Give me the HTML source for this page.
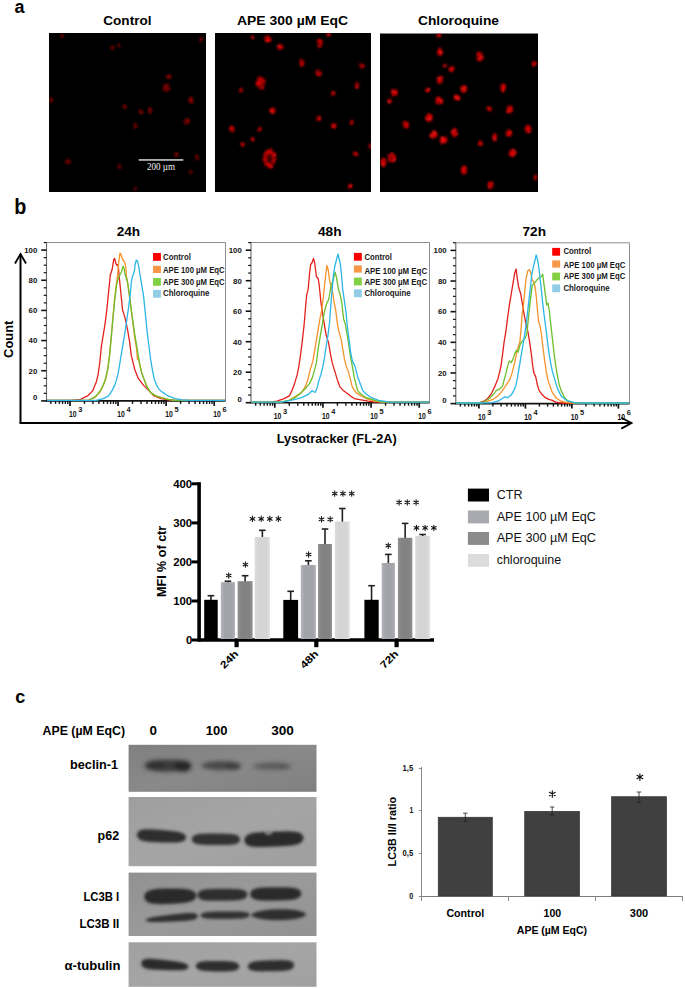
<!DOCTYPE html>
<html><head><meta charset="utf-8"><title>Figure</title>
<style>
html,body{margin:0;padding:0;background:#fff;}
body{width:685px;height:988px;overflow:hidden;}
svg{display:block;font-family:"Liberation Sans", sans-serif;}
</style></head><body>
<svg width="685" height="988" viewBox="0 0 685 988">
<defs>
<filter id="blur1" x="-50%" y="-50%" width="200%" height="200%"><feGaussianBlur stdDeviation="0.9"/></filter>
<filter id="blur2" x="-20%" y="-50%" width="140%" height="200%"><feGaussianBlur stdDeviation="1.35"/></filter>
<filter id="blur3" x="-20%" y="-80%" width="140%" height="260%"><feGaussianBlur stdDeviation="1.9"/></filter>
</defs>
<text x="14.6" y="13" font-size="18" font-weight="bold" text-anchor="start" fill="#000" >a</text>
<text x="103.3" y="25.4" font-size="13.7" font-weight="bold" text-anchor="start" fill="#000" textLength="48.2" lengthAdjust="spacingAndGlyphs" >Control</text>
<text x="237" y="25.4" font-size="13.7" font-weight="bold" text-anchor="start" fill="#000" textLength="111" lengthAdjust="spacingAndGlyphs" >APE 300 µM EqC</text>
<text x="418" y="25.4" font-size="13.7" font-weight="bold" text-anchor="start" fill="#000" textLength="81" lengthAdjust="spacingAndGlyphs" >Chloroquine</text>
<rect x="49" y="33" width="157" height="159" fill="#000"/>
<rect x="215" y="33" width="156" height="159" fill="#000"/>
<rect x="380" y="33.5" width="158" height="158.5" fill="#000"/>
<clipPath id="cp1"><rect x="49" y="33" width="157" height="159"/></clipPath>
<clipPath id="cp2"><rect x="215" y="33" width="156" height="159"/></clipPath>
<clipPath id="cp3"><rect x="380" y="33.5" width="158" height="158.5"/></clipPath>
<g clip-path="url(#cp1)"><g filter="url(#blur1)" opacity="0.8">
<ellipse cx="62" cy="36" rx="1.42" ry="1.42" fill="#500000" opacity="0.5"/>
<circle cx="61.78" cy="36.44" r="1.11" fill="#a00000"/>
<circle cx="62.17" cy="35.65" r="1.06" fill="#c00000"/>
<circle cx="62.82" cy="36.20" r="0.70" fill="#a00000"/>
<circle cx="61.71" cy="35.90" r="1.05" fill="#c00000"/>
<circle cx="61.34" cy="35.29" r="0.69" fill="#700000"/>
<circle cx="62.57" cy="36.18" r="1.04" fill="#c00000"/>
<ellipse cx="113" cy="48" rx="1.52" ry="2.85" fill="#500000" opacity="0.5"/>
<circle cx="112.87" cy="48.94" r="0.73" fill="#8a0000"/>
<circle cx="111.96" cy="47.22" r="0.72" fill="#c00000"/>
<circle cx="112.30" cy="49.36" r="0.69" fill="#a00000"/>
<circle cx="112.30" cy="46.78" r="1.02" fill="#8a0000"/>
<circle cx="111.72" cy="48.53" r="0.90" fill="#c00000"/>
<circle cx="113.31" cy="45.95" r="0.82" fill="#8a0000"/>
<circle cx="111.74" cy="47.62" r="1.16" fill="#8a0000"/>
<circle cx="112.71" cy="47.56" r="1.01" fill="#c00000"/>
<circle cx="113.02" cy="47.01" r="0.99" fill="#a00000"/>
<circle cx="113.37" cy="47.83" r="1.04" fill="#8a0000"/>
<ellipse cx="118.5" cy="45" rx="1.42" ry="1.42" fill="#500000" opacity="0.5"/>
<circle cx="118.10" cy="45.64" r="1.00" fill="#700000"/>
<circle cx="118.85" cy="45.16" r="0.84" fill="#a00000"/>
<circle cx="119.49" cy="45.40" r="1.10" fill="#700000"/>
<circle cx="118.33" cy="45.77" r="1.12" fill="#a00000"/>
<circle cx="119.21" cy="44.72" r="1.08" fill="#700000"/>
<circle cx="119.54" cy="45.40" r="0.74" fill="#c00000"/>
<ellipse cx="201.6" cy="39.6" rx="1.71" ry="2.38" fill="#500000" opacity="0.5"/>
<circle cx="200.43" cy="40.82" r="1.00" fill="#c00000"/>
<circle cx="200.52" cy="40.09" r="1.27" fill="#700000"/>
<circle cx="202.13" cy="38.75" r="0.94" fill="#8a0000"/>
<circle cx="201.21" cy="38.40" r="0.81" fill="#a00000"/>
<circle cx="201.93" cy="40.52" r="0.81" fill="#700000"/>
<circle cx="201.92" cy="38.81" r="0.85" fill="#c00000"/>
<circle cx="200.79" cy="40.23" r="1.05" fill="#c00000"/>
<circle cx="201.20" cy="38.18" r="1.08" fill="#a00000"/>
<circle cx="200.22" cy="40.13" r="1.32" fill="#700000"/>
<ellipse cx="169" cy="77" rx="2.38" ry="2.38" fill="#500000" opacity="0.5"/>
<circle cx="167.93" cy="77.80" r="0.99" fill="#700000"/>
<circle cx="169.51" cy="77.21" r="0.80" fill="#c00000"/>
<circle cx="170.27" cy="78.05" r="0.72" fill="#c00000"/>
<circle cx="166.98" cy="76.53" r="1.08" fill="#a00000"/>
<circle cx="170.17" cy="75.82" r="0.75" fill="#8a0000"/>
<circle cx="170.58" cy="76.54" r="0.98" fill="#a00000"/>
<circle cx="170.23" cy="75.28" r="0.98" fill="#700000"/>
<circle cx="168.69" cy="77.75" r="1.17" fill="#8a0000"/>
<circle cx="167.25" cy="77.24" r="1.01" fill="#c00000"/>
<circle cx="170.47" cy="76.53" r="0.75" fill="#a00000"/>
<circle cx="169.06" cy="75.84" r="1.10" fill="#a00000"/>
<circle cx="168.64" cy="75.98" r="0.91" fill="#c00000"/>
<ellipse cx="166.7" cy="87.8" rx="3.32" ry="3.80" fill="#500000" opacity="0.5"/>
<circle cx="165.83" cy="89.06" r="1.03" fill="#8a0000"/>
<circle cx="165.18" cy="85.79" r="1.20" fill="#c00000"/>
<circle cx="167.63" cy="84.91" r="1.17" fill="#c00000"/>
<circle cx="167.35" cy="90.07" r="1.16" fill="#a00000"/>
<circle cx="167.21" cy="85.54" r="0.79" fill="#8a0000"/>
<circle cx="163.98" cy="88.87" r="1.34" fill="#8a0000"/>
<circle cx="167.53" cy="88.33" r="0.98" fill="#8a0000"/>
<circle cx="167.36" cy="90.38" r="1.28" fill="#a00000"/>
<circle cx="164.32" cy="88.15" r="1.21" fill="#a00000"/>
<circle cx="167.22" cy="86.79" r="0.92" fill="#c00000"/>
<circle cx="165.45" cy="88.00" r="1.20" fill="#8a0000"/>
<circle cx="169.17" cy="89.51" r="1.16" fill="#700000"/>
<circle cx="164.34" cy="89.72" r="1.16" fill="#c00000"/>
<circle cx="167.19" cy="87.78" r="1.06" fill="#700000"/>
<circle cx="167.10" cy="86.58" r="1.23" fill="#700000"/>
<circle cx="165.73" cy="86.12" r="1.03" fill="#c00000"/>
<circle cx="169.34" cy="88.21" r="1.16" fill="#a00000"/>
<circle cx="163.87" cy="87.25" r="0.95" fill="#c00000"/>
<circle cx="167.33" cy="86.41" r="0.83" fill="#8a0000"/>
<circle cx="164.10" cy="87.78" r="0.88" fill="#700000"/>
<circle cx="167.07" cy="87.08" r="1.17" fill="#700000"/>
<circle cx="165.30" cy="85.18" r="1.01" fill="#c00000"/>
<circle cx="164.59" cy="87.31" r="0.66" fill="#700000"/>
<ellipse cx="190.8" cy="100" rx="2.38" ry="3.32" fill="#500000" opacity="0.5"/>
<circle cx="191.07" cy="97.71" r="1.19" fill="#c00000"/>
<circle cx="191.49" cy="101.81" r="1.16" fill="#a00000"/>
<circle cx="190.10" cy="101.90" r="1.04" fill="#a00000"/>
<circle cx="191.18" cy="99.53" r="0.78" fill="#a00000"/>
<circle cx="191.01" cy="97.90" r="1.04" fill="#a00000"/>
<circle cx="189.24" cy="100.81" r="1.00" fill="#c00000"/>
<circle cx="190.30" cy="98.13" r="1.02" fill="#700000"/>
<circle cx="189.74" cy="99.93" r="1.02" fill="#8a0000"/>
<circle cx="192.58" cy="98.69" r="0.79" fill="#700000"/>
<circle cx="191.28" cy="100.79" r="0.96" fill="#a00000"/>
<circle cx="190.14" cy="98.29" r="0.80" fill="#8a0000"/>
<circle cx="191.23" cy="97.25" r="0.76" fill="#8a0000"/>
<circle cx="192.04" cy="102.19" r="1.33" fill="#c00000"/>
<circle cx="190.79" cy="99.09" r="1.27" fill="#c00000"/>
<circle cx="192.73" cy="99.83" r="0.76" fill="#700000"/>
<ellipse cx="51" cy="100" rx="1.71" ry="2.85" fill="#500000" opacity="0.5"/>
<circle cx="51.97" cy="99.94" r="0.94" fill="#8a0000"/>
<circle cx="50.46" cy="101.97" r="0.66" fill="#700000"/>
<circle cx="50.81" cy="100.13" r="0.88" fill="#8a0000"/>
<circle cx="50.61" cy="99.95" r="1.34" fill="#c00000"/>
<circle cx="51.49" cy="99.85" r="0.84" fill="#a00000"/>
<circle cx="51.54" cy="99.39" r="1.18" fill="#700000"/>
<circle cx="51.74" cy="98.30" r="1.31" fill="#700000"/>
<circle cx="51.87" cy="101.97" r="1.05" fill="#8a0000"/>
<circle cx="51.31" cy="100.33" r="1.13" fill="#700000"/>
<circle cx="51.63" cy="99.19" r="0.66" fill="#a00000"/>
<ellipse cx="124.5" cy="107" rx="1.90" ry="2.38" fill="#500000" opacity="0.5"/>
<circle cx="124.66" cy="106.42" r="1.25" fill="#a00000"/>
<circle cx="124.45" cy="107.74" r="0.66" fill="#700000"/>
<circle cx="125.29" cy="106.51" r="0.74" fill="#c00000"/>
<circle cx="126.05" cy="106.21" r="0.83" fill="#c00000"/>
<circle cx="124.78" cy="108.13" r="0.86" fill="#c00000"/>
<circle cx="124.20" cy="108.46" r="0.77" fill="#8a0000"/>
<circle cx="125.06" cy="105.00" r="0.68" fill="#a00000"/>
<circle cx="124.37" cy="105.43" r="0.78" fill="#700000"/>
<circle cx="124.53" cy="108.42" r="1.11" fill="#700000"/>
<circle cx="123.80" cy="105.69" r="1.27" fill="#8a0000"/>
<ellipse cx="141" cy="112" rx="2.09" ry="2.38" fill="#500000" opacity="0.5"/>
<circle cx="140.29" cy="110.05" r="0.89" fill="#c00000"/>
<circle cx="140.09" cy="112.71" r="0.69" fill="#c00000"/>
<circle cx="142.47" cy="112.15" r="1.27" fill="#700000"/>
<circle cx="141.28" cy="112.53" r="1.24" fill="#8a0000"/>
<circle cx="139.73" cy="110.97" r="0.68" fill="#c00000"/>
<circle cx="141.69" cy="113.19" r="0.83" fill="#8a0000"/>
<circle cx="142.36" cy="111.73" r="0.82" fill="#8a0000"/>
<circle cx="141.16" cy="112.89" r="0.88" fill="#a00000"/>
<circle cx="139.69" cy="112.24" r="0.79" fill="#a00000"/>
<circle cx="142.42" cy="113.04" r="0.75" fill="#a00000"/>
<circle cx="140.20" cy="112.72" r="1.09" fill="#a00000"/>
<ellipse cx="150" cy="111" rx="1.90" ry="3.32" fill="#500000" opacity="0.5"/>
<circle cx="148.94" cy="109.89" r="1.18" fill="#700000"/>
<circle cx="150.13" cy="108.48" r="1.00" fill="#8a0000"/>
<circle cx="149.78" cy="108.65" r="0.68" fill="#700000"/>
<circle cx="149.84" cy="108.33" r="0.75" fill="#a00000"/>
<circle cx="150.60" cy="108.98" r="1.27" fill="#c00000"/>
<circle cx="150.30" cy="111.31" r="1.10" fill="#a00000"/>
<circle cx="149.18" cy="112.40" r="0.69" fill="#a00000"/>
<circle cx="149.02" cy="109.25" r="0.99" fill="#a00000"/>
<circle cx="149.57" cy="111.21" r="1.30" fill="#a00000"/>
<circle cx="149.76" cy="110.36" r="1.17" fill="#8a0000"/>
<circle cx="150.57" cy="108.45" r="0.81" fill="#c00000"/>
<circle cx="150.17" cy="113.38" r="0.97" fill="#700000"/>
<circle cx="151.44" cy="112.32" r="0.85" fill="#a00000"/>
<ellipse cx="187" cy="121.5" rx="3.04" ry="3.32" fill="#500000" opacity="0.5"/>
<circle cx="185.38" cy="119.90" r="0.70" fill="#c00000"/>
<circle cx="185.92" cy="123.59" r="1.14" fill="#c00000"/>
<circle cx="187.67" cy="121.56" r="0.84" fill="#a00000"/>
<circle cx="186.21" cy="119.21" r="0.85" fill="#8a0000"/>
<circle cx="185.19" cy="121.95" r="0.73" fill="#c00000"/>
<circle cx="186.70" cy="122.31" r="0.98" fill="#8a0000"/>
<circle cx="184.62" cy="122.19" r="1.33" fill="#700000"/>
<circle cx="188.69" cy="121.43" r="1.29" fill="#c00000"/>
<circle cx="187.73" cy="121.90" r="1.17" fill="#8a0000"/>
<circle cx="187.95" cy="121.18" r="1.22" fill="#8a0000"/>
<circle cx="188.73" cy="119.87" r="0.81" fill="#700000"/>
<circle cx="186.15" cy="122.23" r="1.31" fill="#700000"/>
<circle cx="185.08" cy="122.92" r="0.94" fill="#700000"/>
<circle cx="185.99" cy="124.00" r="0.65" fill="#8a0000"/>
<circle cx="187.50" cy="120.63" r="1.30" fill="#a00000"/>
<circle cx="188.19" cy="120.57" r="0.91" fill="#700000"/>
<circle cx="185.04" cy="123.27" r="0.70" fill="#700000"/>
<circle cx="187.09" cy="118.75" r="0.85" fill="#a00000"/>
<circle cx="187.74" cy="120.13" r="1.30" fill="#c00000"/>
<ellipse cx="135" cy="126" rx="1.71" ry="2.38" fill="#500000" opacity="0.5"/>
<circle cx="135.99" cy="125.75" r="0.87" fill="#8a0000"/>
<circle cx="135.22" cy="124.64" r="0.67" fill="#700000"/>
<circle cx="136.27" cy="124.93" r="1.03" fill="#a00000"/>
<circle cx="136.25" cy="126.56" r="0.97" fill="#c00000"/>
<circle cx="134.50" cy="125.10" r="0.68" fill="#c00000"/>
<circle cx="135.47" cy="127.20" r="0.85" fill="#8a0000"/>
<circle cx="134.90" cy="123.91" r="0.83" fill="#c00000"/>
<circle cx="134.64" cy="127.51" r="0.93" fill="#c00000"/>
<circle cx="134.74" cy="125.54" r="1.00" fill="#700000"/>
<ellipse cx="68" cy="161" rx="2.85" ry="2.85" fill="#500000" opacity="0.5"/>
<circle cx="66.37" cy="160.47" r="0.88" fill="#700000"/>
<circle cx="66.31" cy="161.83" r="0.82" fill="#c00000"/>
<circle cx="67.58" cy="161.64" r="0.82" fill="#8a0000"/>
<circle cx="68.42" cy="159.93" r="0.66" fill="#700000"/>
<circle cx="66.37" cy="162.48" r="0.80" fill="#8a0000"/>
<circle cx="67.67" cy="161.54" r="0.84" fill="#8a0000"/>
<circle cx="69.27" cy="162.29" r="1.09" fill="#c00000"/>
<circle cx="70.02" cy="162.33" r="0.92" fill="#700000"/>
<circle cx="66.70" cy="161.59" r="1.22" fill="#a00000"/>
<circle cx="69.16" cy="162.19" r="1.18" fill="#700000"/>
<circle cx="69.75" cy="160.65" r="0.70" fill="#700000"/>
<circle cx="69.25" cy="160.78" r="0.73" fill="#c00000"/>
<circle cx="69.45" cy="163.05" r="0.73" fill="#700000"/>
<circle cx="69.93" cy="162.14" r="0.65" fill="#c00000"/>
<circle cx="68.27" cy="163.43" r="1.10" fill="#8a0000"/>
<circle cx="69.96" cy="160.53" r="1.02" fill="#700000"/>
<ellipse cx="119.7" cy="167" rx="1.71" ry="2.38" fill="#500000" opacity="0.5"/>
<circle cx="119.54" cy="166.33" r="0.70" fill="#c00000"/>
<circle cx="119.15" cy="167.65" r="1.07" fill="#a00000"/>
<circle cx="118.21" cy="166.51" r="0.85" fill="#8a0000"/>
<circle cx="118.82" cy="165.42" r="0.98" fill="#c00000"/>
<circle cx="119.45" cy="166.89" r="0.94" fill="#8a0000"/>
<circle cx="120.33" cy="167.32" r="1.27" fill="#700000"/>
<circle cx="120.34" cy="167.49" r="0.95" fill="#8a0000"/>
<circle cx="119.74" cy="167.39" r="0.89" fill="#700000"/>
<circle cx="119.08" cy="168.02" r="0.65" fill="#8a0000"/>
<ellipse cx="197" cy="157.7" rx="1.90" ry="2.38" fill="#500000" opacity="0.5"/>
<circle cx="196.92" cy="156.19" r="0.79" fill="#c00000"/>
<circle cx="196.42" cy="159.48" r="0.81" fill="#c00000"/>
<circle cx="196.85" cy="159.70" r="0.73" fill="#700000"/>
<circle cx="195.76" cy="156.42" r="0.99" fill="#a00000"/>
<circle cx="197.62" cy="157.44" r="0.93" fill="#c00000"/>
<circle cx="198.30" cy="157.94" r="0.94" fill="#a00000"/>
<circle cx="197.46" cy="159.00" r="1.15" fill="#8a0000"/>
<circle cx="196.82" cy="155.59" r="1.30" fill="#8a0000"/>
<circle cx="197.50" cy="159.30" r="1.02" fill="#700000"/>
<circle cx="198.36" cy="158.04" r="0.92" fill="#8a0000"/>
<ellipse cx="190.8" cy="172" rx="1.71" ry="1.90" fill="#500000" opacity="0.5"/>
<circle cx="191.81" cy="171.89" r="0.73" fill="#a00000"/>
<circle cx="190.63" cy="172.99" r="1.32" fill="#a00000"/>
<circle cx="189.56" cy="171.45" r="0.92" fill="#8a0000"/>
<circle cx="191.24" cy="170.99" r="0.68" fill="#700000"/>
<circle cx="191.18" cy="173.18" r="0.96" fill="#8a0000"/>
<circle cx="189.85" cy="173.21" r="0.67" fill="#700000"/>
<circle cx="190.82" cy="173.34" r="0.93" fill="#700000"/>
<circle cx="191.17" cy="172.09" r="1.29" fill="#8a0000"/>
<ellipse cx="176" cy="155" rx="1.90" ry="1.71" fill="#500000" opacity="0.5"/>
<circle cx="176.14" cy="155.36" r="1.07" fill="#8a0000"/>
<circle cx="175.77" cy="156.48" r="1.08" fill="#8a0000"/>
<circle cx="175.97" cy="153.73" r="1.30" fill="#8a0000"/>
<circle cx="177.48" cy="155.03" r="1.29" fill="#a00000"/>
<circle cx="176.81" cy="155.11" r="0.98" fill="#700000"/>
<circle cx="177.01" cy="154.73" r="0.83" fill="#700000"/>
<circle cx="176.25" cy="154.49" r="1.00" fill="#a00000"/>
<circle cx="176.47" cy="153.76" r="1.23" fill="#c00000"/>
<ellipse cx="135" cy="189" rx="1.42" ry="1.42" fill="#500000" opacity="0.5"/>
<circle cx="134.43" cy="188.54" r="0.87" fill="#8a0000"/>
<circle cx="135.21" cy="188.04" r="1.01" fill="#700000"/>
<circle cx="135.01" cy="188.37" r="0.70" fill="#a00000"/>
<circle cx="134.07" cy="189.11" r="0.76" fill="#700000"/>
<circle cx="135.94" cy="188.15" r="0.84" fill="#a00000"/>
<circle cx="135.21" cy="189.80" r="1.34" fill="#700000"/>
</g></g><g clip-path="url(#cp2)"><g filter="url(#blur1)">
<ellipse cx="267.8" cy="39.2" rx="3.80" ry="3.32" fill="#780000" opacity="0.55"/>
<circle cx="268.38" cy="40.16" r="0.97" fill="#ff1010"/>
<circle cx="267.76" cy="36.46" r="1.12" fill="#e00000"/>
<circle cx="268.14" cy="37.62" r="0.85" fill="#c00000"/>
<circle cx="265.76" cy="41.03" r="0.79" fill="#ff1010"/>
<circle cx="268.45" cy="40.53" r="0.85" fill="#ff1010"/>
<circle cx="266.81" cy="40.86" r="1.34" fill="#ff1010"/>
<circle cx="267.16" cy="38.44" r="0.97" fill="#e00000"/>
<circle cx="269.67" cy="40.43" r="1.22" fill="#a00000"/>
<circle cx="268.39" cy="38.89" r="0.86" fill="#e00000"/>
<circle cx="270.30" cy="39.92" r="1.23" fill="#ff1010"/>
<circle cx="269.68" cy="38.43" r="1.26" fill="#a00000"/>
<circle cx="265.41" cy="37.62" r="1.12" fill="#e00000"/>
<circle cx="269.87" cy="40.62" r="1.08" fill="#ff1010"/>
<circle cx="269.73" cy="39.60" r="0.68" fill="#c00000"/>
<ellipse cx="279.9" cy="46.9" rx="2.85" ry="3.32" fill="#780000" opacity="0.55"/>
<circle cx="282.02" cy="47.51" r="1.29" fill="#e00000"/>
<circle cx="280.58" cy="45.17" r="0.91" fill="#c00000"/>
<circle cx="280.30" cy="47.15" r="1.00" fill="#a00000"/>
<circle cx="280.65" cy="47.27" r="0.93" fill="#ff1010"/>
<circle cx="279.41" cy="46.21" r="0.76" fill="#c00000"/>
<circle cx="278.76" cy="47.75" r="0.87" fill="#e00000"/>
<circle cx="279.17" cy="48.97" r="0.90" fill="#a00000"/>
<circle cx="282.12" cy="47.20" r="1.21" fill="#ff1010"/>
<circle cx="278.64" cy="48.10" r="1.31" fill="#a00000"/>
<circle cx="281.25" cy="45.78" r="1.22" fill="#a00000"/>
<circle cx="278.54" cy="46.06" r="1.19" fill="#ff1010"/>
<ellipse cx="252" cy="37" rx="1.42" ry="1.90" fill="#780000" opacity="0.55"/>
<circle cx="252.94" cy="37.12" r="1.10" fill="#a00000"/>
<circle cx="252.85" cy="37.71" r="0.91" fill="#ff1010"/>
<circle cx="252.41" cy="37.72" r="1.01" fill="#e00000"/>
<circle cx="252.69" cy="37.75" r="1.21" fill="#ff1010"/>
<ellipse cx="319.6" cy="43.3" rx="2.85" ry="4.27" fill="#780000" opacity="0.55"/>
<circle cx="318.86" cy="46.62" r="0.68" fill="#a00000"/>
<circle cx="318.82" cy="46.04" r="1.10" fill="#e00000"/>
<circle cx="321.26" cy="41.59" r="1.23" fill="#ff1010"/>
<circle cx="318.10" cy="40.57" r="1.08" fill="#ff1010"/>
<circle cx="320.12" cy="41.86" r="0.80" fill="#a00000"/>
<circle cx="320.53" cy="42.73" r="0.90" fill="#ff1010"/>
<circle cx="319.64" cy="46.56" r="1.28" fill="#e00000"/>
<circle cx="321.34" cy="40.96" r="1.12" fill="#c00000"/>
<circle cx="321.06" cy="45.30" r="1.04" fill="#c00000"/>
<circle cx="318.76" cy="41.59" r="0.82" fill="#a00000"/>
<circle cx="318.68" cy="41.15" r="0.96" fill="#e00000"/>
<circle cx="322.13" cy="43.38" r="0.98" fill="#a00000"/>
<circle cx="319.79" cy="39.93" r="0.97" fill="#ff1010"/>
<circle cx="320.20" cy="41.05" r="0.70" fill="#c00000"/>
<ellipse cx="328" cy="34.8" rx="1.90" ry="1.90" fill="#780000" opacity="0.55"/>
<circle cx="327.53" cy="35.02" r="0.96" fill="#e00000"/>
<circle cx="328.59" cy="34.96" r="1.30" fill="#c00000"/>
<circle cx="328.21" cy="33.60" r="0.69" fill="#a00000"/>
<circle cx="327.14" cy="33.57" r="0.67" fill="#e00000"/>
<circle cx="329.45" cy="34.76" r="1.22" fill="#ff1010"/>
<ellipse cx="301.6" cy="62.5" rx="2.85" ry="3.80" fill="#780000" opacity="0.55"/>
<circle cx="303.22" cy="64.85" r="0.85" fill="#ff1010"/>
<circle cx="300.75" cy="59.84" r="0.80" fill="#c00000"/>
<circle cx="300.62" cy="61.41" r="0.88" fill="#c00000"/>
<circle cx="303.03" cy="61.21" r="0.83" fill="#a00000"/>
<circle cx="301.94" cy="64.18" r="1.00" fill="#c00000"/>
<circle cx="300.81" cy="63.59" r="0.93" fill="#c00000"/>
<circle cx="300.57" cy="59.59" r="0.77" fill="#c00000"/>
<circle cx="302.99" cy="64.14" r="1.10" fill="#c00000"/>
<circle cx="303.28" cy="62.02" r="1.02" fill="#e00000"/>
<circle cx="301.58" cy="64.99" r="1.25" fill="#c00000"/>
<circle cx="301.37" cy="65.87" r="1.05" fill="#c00000"/>
<circle cx="301.25" cy="63.35" r="0.81" fill="#e00000"/>
<ellipse cx="318.4" cy="72.9" rx="3.32" ry="3.32" fill="#780000" opacity="0.55"/>
<circle cx="317.79" cy="74.95" r="0.87" fill="#c00000"/>
<circle cx="318.13" cy="70.34" r="0.81" fill="#c00000"/>
<circle cx="316.94" cy="71.60" r="1.01" fill="#e00000"/>
<circle cx="319.36" cy="73.95" r="1.11" fill="#e00000"/>
<circle cx="320.51" cy="73.65" r="0.86" fill="#c00000"/>
<circle cx="316.53" cy="72.49" r="0.86" fill="#ff1010"/>
<circle cx="319.07" cy="75.15" r="0.98" fill="#ff1010"/>
<circle cx="321.05" cy="73.14" r="1.15" fill="#a00000"/>
<circle cx="320.36" cy="74.25" r="1.26" fill="#c00000"/>
<circle cx="317.15" cy="73.78" r="0.66" fill="#c00000"/>
<circle cx="316.53" cy="71.63" r="1.07" fill="#a00000"/>
<circle cx="318.43" cy="75.73" r="0.68" fill="#e00000"/>
<circle cx="317.20" cy="73.71" r="0.69" fill="#e00000"/>
<ellipse cx="361.8" cy="66" rx="2.38" ry="2.38" fill="#780000" opacity="0.55"/>
<circle cx="363.37" cy="66.12" r="1.31" fill="#ff1010"/>
<circle cx="360.49" cy="66.79" r="1.10" fill="#a00000"/>
<circle cx="362.14" cy="65.18" r="0.87" fill="#c00000"/>
<circle cx="360.31" cy="64.49" r="1.16" fill="#a00000"/>
<circle cx="361.76" cy="65.83" r="1.24" fill="#a00000"/>
<circle cx="363.31" cy="66.83" r="0.77" fill="#e00000"/>
<circle cx="361.68" cy="67.70" r="0.74" fill="#c00000"/>
<ellipse cx="260.6" cy="83" rx="4.75" ry="6.65" fill="#780000" opacity="0.55"/>
<circle cx="260.08" cy="80.02" r="1.04" fill="#a00000"/>
<circle cx="259.00" cy="77.76" r="1.33" fill="#c00000"/>
<circle cx="257.98" cy="78.45" r="0.80" fill="#e00000"/>
<circle cx="262.55" cy="87.96" r="1.24" fill="#ff1010"/>
<circle cx="264.05" cy="81.25" r="0.88" fill="#a00000"/>
<circle cx="259.62" cy="85.56" r="1.29" fill="#a00000"/>
<circle cx="257.55" cy="83.76" r="0.65" fill="#e00000"/>
<circle cx="257.26" cy="84.95" r="1.05" fill="#c00000"/>
<circle cx="261.25" cy="79.39" r="1.06" fill="#ff1010"/>
<circle cx="261.03" cy="83.77" r="0.72" fill="#ff1010"/>
<circle cx="259.70" cy="84.85" r="0.67" fill="#e00000"/>
<circle cx="262.80" cy="86.65" r="0.68" fill="#e00000"/>
<circle cx="260.51" cy="81.48" r="1.06" fill="#c00000"/>
<circle cx="261.90" cy="88.52" r="1.02" fill="#e00000"/>
<circle cx="263.29" cy="79.45" r="1.15" fill="#a00000"/>
<circle cx="262.11" cy="84.68" r="0.73" fill="#e00000"/>
<circle cx="264.45" cy="81.22" r="1.18" fill="#e00000"/>
<circle cx="262.13" cy="78.79" r="0.85" fill="#e00000"/>
<circle cx="263.14" cy="86.92" r="1.10" fill="#c00000"/>
<circle cx="259.44" cy="86.51" r="0.66" fill="#c00000"/>
<circle cx="261.45" cy="82.44" r="1.18" fill="#c00000"/>
<circle cx="261.00" cy="78.42" r="0.98" fill="#c00000"/>
<circle cx="260.05" cy="82.29" r="0.94" fill="#a00000"/>
<circle cx="259.28" cy="82.78" r="0.98" fill="#e00000"/>
<circle cx="258.68" cy="82.35" r="1.25" fill="#e00000"/>
<circle cx="258.57" cy="81.56" r="0.96" fill="#ff1010"/>
<circle cx="259.72" cy="88.01" r="0.69" fill="#c00000"/>
<circle cx="257.63" cy="83.24" r="1.21" fill="#ff1010"/>
<circle cx="263.80" cy="82.06" r="1.32" fill="#c00000"/>
<circle cx="259.11" cy="81.88" r="1.22" fill="#ff1010"/>
<circle cx="259.19" cy="83.02" r="1.10" fill="#e00000"/>
<circle cx="256.38" cy="83.36" r="1.04" fill="#e00000"/>
<circle cx="258.84" cy="80.45" r="0.93" fill="#a00000"/>
<ellipse cx="240.8" cy="90" rx="1.90" ry="2.38" fill="#780000" opacity="0.55"/>
<circle cx="241.94" cy="88.85" r="0.95" fill="#e00000"/>
<circle cx="240.15" cy="90.84" r="0.95" fill="#ff1010"/>
<circle cx="239.64" cy="91.37" r="0.81" fill="#a00000"/>
<circle cx="241.72" cy="91.17" r="1.13" fill="#e00000"/>
<circle cx="240.24" cy="90.99" r="0.76" fill="#a00000"/>
<circle cx="240.03" cy="88.44" r="0.77" fill="#a00000"/>
<ellipse cx="357" cy="85.4" rx="1.90" ry="2.85" fill="#780000" opacity="0.55"/>
<circle cx="356.68" cy="84.20" r="0.81" fill="#c00000"/>
<circle cx="355.45" cy="85.97" r="0.82" fill="#ff1010"/>
<circle cx="356.84" cy="87.60" r="1.23" fill="#ff1010"/>
<circle cx="356.72" cy="82.92" r="1.16" fill="#c00000"/>
<circle cx="357.52" cy="86.64" r="0.78" fill="#e00000"/>
<circle cx="357.70" cy="87.18" r="0.79" fill="#ff1010"/>
<circle cx="358.51" cy="85.17" r="1.16" fill="#a00000"/>
<ellipse cx="333" cy="93.8" rx="2.38" ry="2.38" fill="#780000" opacity="0.55"/>
<circle cx="332.90" cy="94.49" r="1.29" fill="#c00000"/>
<circle cx="333.36" cy="95.07" r="0.67" fill="#a00000"/>
<circle cx="333.86" cy="92.69" r="0.81" fill="#c00000"/>
<circle cx="332.22" cy="93.98" r="1.07" fill="#a00000"/>
<circle cx="334.05" cy="93.84" r="1.25" fill="#a00000"/>
<circle cx="333.98" cy="92.37" r="1.11" fill="#ff1010"/>
<circle cx="332.27" cy="92.26" r="0.97" fill="#c00000"/>
<ellipse cx="272.7" cy="110.7" rx="3.32" ry="2.85" fill="#780000" opacity="0.55"/>
<circle cx="272.55" cy="112.83" r="1.28" fill="#ff1010"/>
<circle cx="273.21" cy="108.59" r="1.09" fill="#c00000"/>
<circle cx="273.91" cy="109.26" r="0.66" fill="#a00000"/>
<circle cx="270.30" cy="110.46" r="1.26" fill="#c00000"/>
<circle cx="273.03" cy="109.13" r="0.99" fill="#e00000"/>
<circle cx="274.83" cy="111.15" r="0.76" fill="#ff1010"/>
<circle cx="271.76" cy="110.60" r="1.05" fill="#ff1010"/>
<circle cx="272.27" cy="108.91" r="1.10" fill="#c00000"/>
<circle cx="270.81" cy="110.48" r="1.31" fill="#ff1010"/>
<circle cx="273.97" cy="110.63" r="1.01" fill="#e00000"/>
<circle cx="272.39" cy="108.72" r="1.10" fill="#c00000"/>
<ellipse cx="318.4" cy="118" rx="1.90" ry="2.85" fill="#780000" opacity="0.55"/>
<circle cx="318.24" cy="119.59" r="0.66" fill="#a00000"/>
<circle cx="319.56" cy="116.98" r="1.12" fill="#c00000"/>
<circle cx="319.12" cy="118.89" r="0.93" fill="#ff1010"/>
<circle cx="320.07" cy="117.91" r="0.97" fill="#ff1010"/>
<circle cx="319.43" cy="119.63" r="1.22" fill="#ff1010"/>
<circle cx="317.15" cy="118.37" r="0.81" fill="#ff1010"/>
<circle cx="317.58" cy="119.63" r="1.22" fill="#a00000"/>
<ellipse cx="352" cy="122.8" rx="1.90" ry="2.38" fill="#780000" opacity="0.55"/>
<circle cx="351.10" cy="123.03" r="1.03" fill="#ff1010"/>
<circle cx="352.22" cy="121.37" r="1.20" fill="#ff1010"/>
<circle cx="351.89" cy="124.10" r="0.83" fill="#a00000"/>
<circle cx="351.49" cy="121.47" r="1.21" fill="#c00000"/>
<circle cx="351.14" cy="124.14" r="0.87" fill="#a00000"/>
<circle cx="350.78" cy="123.54" r="1.11" fill="#c00000"/>
<ellipse cx="334" cy="126.4" rx="2.85" ry="2.38" fill="#780000" opacity="0.55"/>
<circle cx="334.81" cy="127.36" r="0.92" fill="#e00000"/>
<circle cx="335.14" cy="124.61" r="1.20" fill="#ff1010"/>
<circle cx="332.53" cy="126.16" r="1.06" fill="#e00000"/>
<circle cx="334.17" cy="126.95" r="0.86" fill="#e00000"/>
<circle cx="331.92" cy="125.47" r="0.78" fill="#a00000"/>
<circle cx="333.43" cy="127.08" r="1.28" fill="#ff1010"/>
<circle cx="332.37" cy="125.28" r="1.33" fill="#e00000"/>
<circle cx="332.82" cy="124.65" r="1.20" fill="#c00000"/>
<ellipse cx="232" cy="128.8" rx="2.38" ry="3.80" fill="#780000" opacity="0.55"/>
<circle cx="232.57" cy="131.48" r="1.02" fill="#a00000"/>
<circle cx="231.65" cy="127.78" r="0.73" fill="#a00000"/>
<circle cx="232.08" cy="130.06" r="1.00" fill="#e00000"/>
<circle cx="229.99" cy="129.12" r="1.14" fill="#ff1010"/>
<circle cx="230.44" cy="128.83" r="1.25" fill="#e00000"/>
<circle cx="232.64" cy="130.43" r="1.14" fill="#a00000"/>
<circle cx="231.01" cy="126.11" r="0.91" fill="#a00000"/>
<circle cx="233.75" cy="128.80" r="0.78" fill="#c00000"/>
<circle cx="231.76" cy="128.37" r="1.08" fill="#c00000"/>
<circle cx="232.23" cy="127.83" r="0.99" fill="#ff1010"/>
<circle cx="233.76" cy="129.41" r="1.09" fill="#c00000"/>
<ellipse cx="259.4" cy="128.8" rx="1.90" ry="1.90" fill="#780000" opacity="0.55"/>
<circle cx="260.54" cy="129.57" r="0.89" fill="#ff1010"/>
<circle cx="259.19" cy="129.77" r="0.83" fill="#e00000"/>
<circle cx="259.83" cy="127.98" r="1.23" fill="#a00000"/>
<circle cx="258.55" cy="130.26" r="1.26" fill="#c00000"/>
<circle cx="260.76" cy="128.58" r="1.20" fill="#c00000"/>
<ellipse cx="252.2" cy="139.6" rx="1.90" ry="1.90" fill="#780000" opacity="0.55"/>
<circle cx="252.71" cy="140.94" r="0.74" fill="#e00000"/>
<circle cx="252.27" cy="139.27" r="1.16" fill="#a00000"/>
<circle cx="251.84" cy="139.49" r="0.86" fill="#e00000"/>
<circle cx="253.68" cy="140.04" r="0.98" fill="#e00000"/>
<circle cx="252.59" cy="138.03" r="1.08" fill="#ff1010"/>
<ellipse cx="242.5" cy="144.5" rx="2.38" ry="1.90" fill="#780000" opacity="0.55"/>
<circle cx="241.26" cy="143.49" r="1.07" fill="#e00000"/>
<circle cx="242.91" cy="145.85" r="0.97" fill="#ff1010"/>
<circle cx="243.23" cy="144.93" r="0.68" fill="#e00000"/>
<circle cx="243.98" cy="143.79" r="0.91" fill="#ff1010"/>
<circle cx="242.86" cy="143.26" r="0.83" fill="#c00000"/>
<circle cx="242.66" cy="144.79" r="0.66" fill="#e00000"/>
<ellipse cx="269.6" cy="158.6" rx="6.37" ry="9.50" fill="#780000" opacity="0.55"/>
<circle cx="264.52" cy="158.71" r="1.23" fill="#a00000"/>
<circle cx="264.13" cy="154.42" r="0.96" fill="#e00000"/>
<circle cx="267.35" cy="151.48" r="1.35" fill="#ff1010"/>
<circle cx="264.87" cy="159.70" r="0.72" fill="#a00000"/>
<circle cx="270.56" cy="164.54" r="0.66" fill="#e00000"/>
<circle cx="275.07" cy="159.08" r="1.34" fill="#e00000"/>
<circle cx="270.39" cy="164.47" r="0.98" fill="#c00000"/>
<circle cx="268.77" cy="152.25" r="1.16" fill="#ff1010"/>
<circle cx="273.73" cy="155.35" r="1.17" fill="#ff1010"/>
<circle cx="269.10" cy="152.81" r="1.09" fill="#a00000"/>
<circle cx="263.61" cy="160.86" r="0.83" fill="#e00000"/>
<circle cx="268.84" cy="153.17" r="0.66" fill="#e00000"/>
<circle cx="266.13" cy="162.94" r="1.07" fill="#a00000"/>
<circle cx="266.09" cy="154.32" r="1.31" fill="#a00000"/>
<circle cx="265.54" cy="159.76" r="1.33" fill="#e00000"/>
<circle cx="266.06" cy="164.72" r="1.09" fill="#a00000"/>
<circle cx="263.89" cy="159.84" r="0.97" fill="#c00000"/>
<circle cx="270.72" cy="151.02" r="0.85" fill="#e00000"/>
<circle cx="265.69" cy="152.99" r="1.21" fill="#c00000"/>
<circle cx="273.44" cy="152.46" r="0.66" fill="#ff1010"/>
<circle cx="265.97" cy="154.60" r="0.95" fill="#ff1010"/>
<circle cx="265.66" cy="164.36" r="1.07" fill="#ff1010"/>
<circle cx="271.17" cy="152.39" r="0.65" fill="#c00000"/>
<circle cx="269.14" cy="164.69" r="1.29" fill="#e00000"/>
<circle cx="268.63" cy="164.49" r="1.27" fill="#ff1010"/>
<circle cx="268.71" cy="167.41" r="1.21" fill="#a00000"/>
<circle cx="267.36" cy="163.39" r="1.04" fill="#a00000"/>
<circle cx="271.35" cy="166.69" r="1.30" fill="#ff1010"/>
<circle cx="268.20" cy="163.93" r="0.93" fill="#ff1010"/>
<circle cx="274.30" cy="155.08" r="0.66" fill="#a00000"/>
<circle cx="265.80" cy="160.07" r="1.21" fill="#e00000"/>
<circle cx="270.16" cy="166.37" r="1.28" fill="#c00000"/>
<circle cx="264.39" cy="159.75" r="0.78" fill="#ff1010"/>
<circle cx="274.49" cy="163.37" r="0.85" fill="#c00000"/>
<circle cx="265.45" cy="162.95" r="0.75" fill="#e00000"/>
<circle cx="274.03" cy="155.11" r="1.26" fill="#c00000"/>
<circle cx="265.71" cy="152.19" r="0.76" fill="#e00000"/>
<circle cx="266.75" cy="164.87" r="0.66" fill="#e00000"/>
<circle cx="271.29" cy="167.22" r="1.05" fill="#ff1010"/>
<circle cx="269.18" cy="167.19" r="0.95" fill="#a00000"/>
<circle cx="270.24" cy="149.88" r="1.32" fill="#c00000"/>
<circle cx="272.15" cy="152.90" r="1.35" fill="#a00000"/>
<circle cx="272.91" cy="161.46" r="1.04" fill="#a00000"/>
<circle cx="263.67" cy="159.33" r="1.28" fill="#a00000"/>
<circle cx="274.52" cy="154.69" r="0.71" fill="#c00000"/>
<circle cx="264.64" cy="155.42" r="1.32" fill="#a00000"/>
<circle cx="272.05" cy="166.71" r="0.91" fill="#ff1010"/>
<circle cx="273.87" cy="158.27" r="0.68" fill="#c00000"/>
<circle cx="273.18" cy="156.53" r="1.04" fill="#e00000"/>
<circle cx="271.59" cy="153.74" r="1.20" fill="#a00000"/>
<circle cx="273.43" cy="160.69" r="1.18" fill="#ff1010"/>
<circle cx="267.61" cy="152.60" r="1.06" fill="#e00000"/>
<circle cx="265.00" cy="159.88" r="0.92" fill="#c00000"/>
<circle cx="265.49" cy="159.32" r="0.82" fill="#ff1010"/>
<circle cx="274.82" cy="153.95" r="0.98" fill="#ff1010"/>
<circle cx="270.84" cy="152.76" r="1.23" fill="#e00000"/>
<circle cx="275.10" cy="154.98" r="1.27" fill="#ff1010"/>
<circle cx="270.71" cy="149.42" r="1.30" fill="#a00000"/>
<circle cx="272.54" cy="151.89" r="0.97" fill="#c00000"/>
<circle cx="267.70" cy="164.38" r="0.73" fill="#c00000"/>
<circle cx="272.27" cy="163.59" r="0.69" fill="#a00000"/>
<circle cx="265.75" cy="156.60" r="1.26" fill="#c00000"/>
<ellipse cx="355.8" cy="154" rx="2.85" ry="1.90" fill="#780000" opacity="0.55"/>
<circle cx="354.70" cy="154.41" r="0.67" fill="#c00000"/>
<circle cx="355.27" cy="154.60" r="0.99" fill="#c00000"/>
<circle cx="354.10" cy="154.32" r="0.76" fill="#e00000"/>
<circle cx="354.26" cy="152.89" r="1.30" fill="#a00000"/>
<circle cx="356.25" cy="153.50" r="1.18" fill="#c00000"/>
<circle cx="354.61" cy="154.36" r="0.82" fill="#ff1010"/>
<circle cx="356.92" cy="154.53" r="1.28" fill="#e00000"/>
<ellipse cx="349.8" cy="186.6" rx="1.90" ry="2.85" fill="#780000" opacity="0.55"/>
<circle cx="350.63" cy="184.41" r="0.75" fill="#e00000"/>
<circle cx="348.67" cy="187.25" r="1.01" fill="#a00000"/>
<circle cx="351.35" cy="186.63" r="1.02" fill="#ff1010"/>
<circle cx="349.58" cy="187.00" r="0.94" fill="#c00000"/>
<circle cx="349.23" cy="186.19" r="0.78" fill="#ff1010"/>
<circle cx="349.62" cy="185.50" r="0.71" fill="#e00000"/>
<circle cx="350.92" cy="185.20" r="1.18" fill="#ff1010"/>
<ellipse cx="370" cy="145.7" rx="1.42" ry="1.90" fill="#780000" opacity="0.55"/>
<circle cx="370.27" cy="146.98" r="1.15" fill="#ff1010"/>
<circle cx="369.50" cy="145.32" r="0.70" fill="#a00000"/>
<circle cx="370.66" cy="144.33" r="1.01" fill="#c00000"/>
<circle cx="369.40" cy="147.04" r="1.26" fill="#a00000"/>
</g></g><g clip-path="url(#cp3)"><g filter="url(#blur1)">
<ellipse cx="438.9" cy="34.8" rx="1.90" ry="1.90" fill="#880000" opacity="0.6"/>
<circle cx="439.82" cy="35.38" r="1.18" fill="#ff1a1a"/>
<circle cx="439.51" cy="34.17" r="0.78" fill="#d00000"/>
<circle cx="440.29" cy="35.13" r="1.05" fill="#f00000"/>
<circle cx="437.88" cy="36.09" r="1.33" fill="#f00000"/>
<circle cx="439.94" cy="35.79" r="1.22" fill="#d00000"/>
<circle cx="439.19" cy="33.24" r="1.05" fill="#f00000"/>
<ellipse cx="440" cy="51.7" rx="2.38" ry="4.27" fill="#880000" opacity="0.6"/>
<circle cx="439.82" cy="52.91" r="1.16" fill="#b00000"/>
<circle cx="438.46" cy="51.47" r="1.03" fill="#f00000"/>
<circle cx="440.03" cy="52.84" r="1.08" fill="#ff1a1a"/>
<circle cx="440.85" cy="52.85" r="1.22" fill="#f00000"/>
<circle cx="442.03" cy="52.15" r="1.17" fill="#d00000"/>
<circle cx="441.64" cy="52.03" r="1.05" fill="#ff1a1a"/>
<circle cx="439.80" cy="50.53" r="1.26" fill="#ff1a1a"/>
<circle cx="440.72" cy="52.08" r="1.00" fill="#d00000"/>
<circle cx="440.57" cy="52.55" r="1.27" fill="#ff1a1a"/>
<circle cx="440.52" cy="50.58" r="1.05" fill="#b00000"/>
<circle cx="440.99" cy="54.68" r="1.31" fill="#b00000"/>
<circle cx="439.43" cy="48.93" r="1.07" fill="#f00000"/>
<circle cx="438.37" cy="53.96" r="1.19" fill="#d00000"/>
<ellipse cx="479.8" cy="56.5" rx="3.32" ry="5.22" fill="#880000" opacity="0.6"/>
<circle cx="477.59" cy="59.00" r="1.15" fill="#d00000"/>
<circle cx="480.89" cy="52.55" r="0.69" fill="#ff1a1a"/>
<circle cx="482.58" cy="55.32" r="0.82" fill="#b00000"/>
<circle cx="479.63" cy="56.07" r="0.73" fill="#ff1a1a"/>
<circle cx="481.58" cy="57.80" r="1.00" fill="#f00000"/>
<circle cx="480.10" cy="59.50" r="0.93" fill="#b00000"/>
<circle cx="478.01" cy="53.38" r="1.27" fill="#f00000"/>
<circle cx="482.13" cy="57.30" r="0.84" fill="#d00000"/>
<circle cx="477.95" cy="53.47" r="0.68" fill="#f00000"/>
<circle cx="479.79" cy="59.87" r="0.95" fill="#f00000"/>
<circle cx="479.42" cy="59.01" r="1.10" fill="#f00000"/>
<circle cx="482.51" cy="58.19" r="1.29" fill="#d00000"/>
<circle cx="481.77" cy="58.32" r="1.30" fill="#b00000"/>
<circle cx="480.57" cy="57.69" r="0.86" fill="#b00000"/>
<circle cx="478.42" cy="55.36" r="1.17" fill="#d00000"/>
<circle cx="481.04" cy="53.41" r="1.05" fill="#b00000"/>
<circle cx="480.56" cy="60.26" r="0.97" fill="#d00000"/>
<circle cx="478.25" cy="54.42" r="0.87" fill="#ff1a1a"/>
<circle cx="479.15" cy="58.26" r="1.03" fill="#b00000"/>
<circle cx="481.56" cy="56.71" r="1.25" fill="#ff1a1a"/>
<circle cx="479.04" cy="58.88" r="0.84" fill="#ff1a1a"/>
<ellipse cx="534" cy="63.7" rx="2.38" ry="2.38" fill="#880000" opacity="0.6"/>
<circle cx="533.47" cy="65.49" r="0.76" fill="#f00000"/>
<circle cx="533.01" cy="62.93" r="1.11" fill="#b00000"/>
<circle cx="534.64" cy="62.61" r="1.18" fill="#ff1a1a"/>
<circle cx="535.75" cy="63.58" r="1.30" fill="#b00000"/>
<circle cx="533.34" cy="64.78" r="1.12" fill="#d00000"/>
<circle cx="534.66" cy="62.32" r="1.17" fill="#b00000"/>
<circle cx="533.80" cy="65.38" r="1.09" fill="#ff1a1a"/>
<circle cx="533.42" cy="64.06" r="0.94" fill="#f00000"/>
<ellipse cx="451.6" cy="68.6" rx="2.85" ry="2.85" fill="#880000" opacity="0.6"/>
<circle cx="449.10" cy="68.63" r="1.05" fill="#b00000"/>
<circle cx="452.39" cy="67.51" r="1.08" fill="#f00000"/>
<circle cx="450.35" cy="69.78" r="0.97" fill="#d00000"/>
<circle cx="451.18" cy="70.14" r="1.04" fill="#b00000"/>
<circle cx="451.47" cy="68.43" r="1.17" fill="#b00000"/>
<circle cx="450.58" cy="69.55" r="1.03" fill="#ff1a1a"/>
<circle cx="450.16" cy="69.22" r="0.81" fill="#d00000"/>
<circle cx="450.55" cy="70.69" r="1.24" fill="#d00000"/>
<circle cx="452.07" cy="70.20" r="1.29" fill="#f00000"/>
<circle cx="452.87" cy="68.81" r="1.28" fill="#d00000"/>
<circle cx="453.57" cy="67.52" r="1.03" fill="#b00000"/>
<ellipse cx="444.9" cy="65.7" rx="1.42" ry="1.42" fill="#880000" opacity="0.6"/>
<circle cx="443.99" cy="65.60" r="1.13" fill="#b00000"/>
<circle cx="444.65" cy="65.76" r="1.12" fill="#b00000"/>
<circle cx="445.89" cy="65.36" r="1.02" fill="#f00000"/>
<circle cx="444.14" cy="66.19" r="1.10" fill="#ff1a1a"/>
<ellipse cx="440" cy="80" rx="3.32" ry="3.80" fill="#880000" opacity="0.6"/>
<circle cx="442.13" cy="77.71" r="0.99" fill="#b00000"/>
<circle cx="440.31" cy="76.80" r="1.06" fill="#f00000"/>
<circle cx="440.80" cy="81.68" r="1.33" fill="#d00000"/>
<circle cx="439.01" cy="79.91" r="1.28" fill="#d00000"/>
<circle cx="441.27" cy="76.94" r="1.27" fill="#b00000"/>
<circle cx="438.54" cy="78.19" r="1.22" fill="#ff1a1a"/>
<circle cx="438.71" cy="79.95" r="0.78" fill="#f00000"/>
<circle cx="438.21" cy="82.70" r="1.10" fill="#f00000"/>
<circle cx="439.89" cy="79.67" r="0.65" fill="#f00000"/>
<circle cx="441.63" cy="78.93" r="0.72" fill="#f00000"/>
<circle cx="439.35" cy="78.69" r="1.00" fill="#d00000"/>
<circle cx="441.94" cy="77.67" r="1.01" fill="#ff1a1a"/>
<circle cx="438.30" cy="79.02" r="0.74" fill="#ff1a1a"/>
<circle cx="437.89" cy="79.72" r="0.67" fill="#f00000"/>
<circle cx="441.03" cy="82.16" r="1.23" fill="#b00000"/>
<circle cx="440.26" cy="79.21" r="0.66" fill="#d00000"/>
<ellipse cx="427.5" cy="89.8" rx="2.38" ry="2.38" fill="#880000" opacity="0.6"/>
<circle cx="428.14" cy="90.62" r="0.84" fill="#f00000"/>
<circle cx="427.43" cy="90.47" r="1.28" fill="#f00000"/>
<circle cx="426.67" cy="90.96" r="0.92" fill="#f00000"/>
<circle cx="427.75" cy="91.11" r="1.18" fill="#f00000"/>
<circle cx="425.95" cy="90.42" r="0.82" fill="#f00000"/>
<circle cx="428.38" cy="91.17" r="0.77" fill="#f00000"/>
<circle cx="429.04" cy="88.66" r="0.86" fill="#d00000"/>
<circle cx="428.95" cy="89.43" r="1.31" fill="#ff1a1a"/>
<ellipse cx="394.3" cy="92.2" rx="3.32" ry="3.80" fill="#880000" opacity="0.6"/>
<circle cx="393.22" cy="89.69" r="1.06" fill="#b00000"/>
<circle cx="393.29" cy="95.16" r="0.99" fill="#ff1a1a"/>
<circle cx="395.35" cy="92.93" r="0.92" fill="#f00000"/>
<circle cx="395.88" cy="91.87" r="1.04" fill="#f00000"/>
<circle cx="392.89" cy="94.93" r="0.89" fill="#f00000"/>
<circle cx="396.18" cy="91.67" r="1.29" fill="#ff1a1a"/>
<circle cx="392.76" cy="93.71" r="0.89" fill="#b00000"/>
<circle cx="396.67" cy="92.80" r="0.89" fill="#ff1a1a"/>
<circle cx="394.36" cy="93.42" r="0.79" fill="#ff1a1a"/>
<circle cx="392.39" cy="91.41" r="1.21" fill="#ff1a1a"/>
<circle cx="395.25" cy="93.90" r="1.16" fill="#b00000"/>
<circle cx="392.74" cy="90.32" r="0.86" fill="#b00000"/>
<circle cx="392.88" cy="92.15" r="0.97" fill="#ff1a1a"/>
<circle cx="397.08" cy="90.99" r="1.07" fill="#b00000"/>
<circle cx="392.76" cy="91.12" r="0.82" fill="#ff1a1a"/>
<circle cx="396.12" cy="94.29" r="1.12" fill="#f00000"/>
<ellipse cx="389.5" cy="101" rx="2.38" ry="2.38" fill="#880000" opacity="0.6"/>
<circle cx="388.43" cy="100.71" r="1.19" fill="#b00000"/>
<circle cx="391.27" cy="101.32" r="0.75" fill="#f00000"/>
<circle cx="389.02" cy="101.40" r="0.77" fill="#ff1a1a"/>
<circle cx="388.75" cy="102.56" r="0.73" fill="#d00000"/>
<circle cx="390.13" cy="99.26" r="0.78" fill="#d00000"/>
<circle cx="390.47" cy="101.60" r="1.22" fill="#b00000"/>
<circle cx="389.23" cy="102.32" r="1.29" fill="#ff1a1a"/>
<circle cx="390.32" cy="100.65" r="0.91" fill="#d00000"/>
<ellipse cx="464" cy="89" rx="3.32" ry="3.80" fill="#880000" opacity="0.6"/>
<circle cx="464.38" cy="88.67" r="1.14" fill="#b00000"/>
<circle cx="464.03" cy="92.13" r="0.90" fill="#f00000"/>
<circle cx="464.42" cy="90.05" r="1.29" fill="#ff1a1a"/>
<circle cx="463.86" cy="88.33" r="0.68" fill="#ff1a1a"/>
<circle cx="461.65" cy="90.25" r="0.76" fill="#f00000"/>
<circle cx="461.77" cy="88.13" r="1.31" fill="#ff1a1a"/>
<circle cx="461.72" cy="87.77" r="0.83" fill="#b00000"/>
<circle cx="462.91" cy="86.74" r="1.30" fill="#f00000"/>
<circle cx="465.32" cy="86.41" r="0.85" fill="#f00000"/>
<circle cx="465.61" cy="87.16" r="1.14" fill="#ff1a1a"/>
<circle cx="463.76" cy="88.41" r="0.87" fill="#d00000"/>
<circle cx="464.00" cy="88.00" r="1.14" fill="#b00000"/>
<circle cx="466.33" cy="88.97" r="0.80" fill="#f00000"/>
<circle cx="462.31" cy="91.69" r="0.96" fill="#d00000"/>
<circle cx="463.08" cy="86.27" r="1.23" fill="#b00000"/>
<circle cx="461.56" cy="88.85" r="0.79" fill="#ff1a1a"/>
<ellipse cx="457" cy="97.5" rx="3.32" ry="3.32" fill="#880000" opacity="0.6"/>
<circle cx="455.71" cy="97.59" r="1.32" fill="#d00000"/>
<circle cx="457.55" cy="98.57" r="1.20" fill="#ff1a1a"/>
<circle cx="455.57" cy="97.09" r="0.69" fill="#d00000"/>
<circle cx="456.48" cy="98.24" r="1.10" fill="#ff1a1a"/>
<circle cx="458.64" cy="99.39" r="1.12" fill="#ff1a1a"/>
<circle cx="456.94" cy="97.28" r="1.13" fill="#ff1a1a"/>
<circle cx="458.62" cy="96.81" r="0.86" fill="#ff1a1a"/>
<circle cx="455.76" cy="96.74" r="1.09" fill="#f00000"/>
<circle cx="454.52" cy="96.73" r="0.77" fill="#ff1a1a"/>
<circle cx="455.36" cy="96.33" r="1.19" fill="#ff1a1a"/>
<circle cx="458.20" cy="98.55" r="0.90" fill="#ff1a1a"/>
<circle cx="459.71" cy="98.26" r="0.86" fill="#f00000"/>
<circle cx="456.40" cy="95.60" r="0.73" fill="#d00000"/>
<circle cx="454.89" cy="98.26" r="0.85" fill="#f00000"/>
<ellipse cx="438.9" cy="101" rx="4.27" ry="3.80" fill="#880000" opacity="0.6"/>
<circle cx="441.41" cy="101.66" r="1.34" fill="#b00000"/>
<circle cx="441.70" cy="102.45" r="1.34" fill="#d00000"/>
<circle cx="440.97" cy="102.50" r="0.95" fill="#ff1a1a"/>
<circle cx="439.36" cy="99.11" r="0.90" fill="#f00000"/>
<circle cx="437.03" cy="98.88" r="1.30" fill="#d00000"/>
<circle cx="438.29" cy="100.22" r="1.17" fill="#f00000"/>
<circle cx="439.44" cy="97.92" r="0.86" fill="#ff1a1a"/>
<circle cx="441.59" cy="100.42" r="1.28" fill="#ff1a1a"/>
<circle cx="441.50" cy="102.73" r="0.87" fill="#d00000"/>
<circle cx="436.67" cy="102.88" r="0.90" fill="#ff1a1a"/>
<circle cx="436.98" cy="102.86" r="0.91" fill="#d00000"/>
<circle cx="438.95" cy="101.69" r="1.05" fill="#b00000"/>
<circle cx="441.98" cy="99.15" r="1.00" fill="#b00000"/>
<circle cx="438.44" cy="97.63" r="1.07" fill="#f00000"/>
<circle cx="440.05" cy="102.26" r="0.75" fill="#b00000"/>
<circle cx="439.55" cy="101.36" r="0.96" fill="#ff1a1a"/>
<circle cx="439.36" cy="103.03" r="0.67" fill="#b00000"/>
<circle cx="439.54" cy="101.71" r="0.69" fill="#b00000"/>
<circle cx="439.64" cy="100.46" r="0.66" fill="#ff1a1a"/>
<circle cx="440.18" cy="100.22" r="0.86" fill="#b00000"/>
<ellipse cx="502.7" cy="87.8" rx="2.85" ry="4.27" fill="#880000" opacity="0.6"/>
<circle cx="503.40" cy="84.84" r="1.05" fill="#b00000"/>
<circle cx="503.95" cy="88.91" r="0.97" fill="#ff1a1a"/>
<circle cx="505.17" cy="87.20" r="1.08" fill="#f00000"/>
<circle cx="502.45" cy="85.63" r="1.11" fill="#b00000"/>
<circle cx="504.39" cy="87.02" r="1.10" fill="#d00000"/>
<circle cx="503.93" cy="85.71" r="1.09" fill="#ff1a1a"/>
<circle cx="503.08" cy="91.04" r="1.13" fill="#ff1a1a"/>
<circle cx="501.87" cy="85.83" r="1.06" fill="#b00000"/>
<circle cx="501.90" cy="89.24" r="0.96" fill="#d00000"/>
<circle cx="503.52" cy="88.87" r="1.27" fill="#f00000"/>
<circle cx="503.12" cy="91.24" r="1.10" fill="#ff1a1a"/>
<circle cx="501.44" cy="87.43" r="0.99" fill="#b00000"/>
<circle cx="502.98" cy="90.66" r="0.73" fill="#f00000"/>
<circle cx="503.95" cy="85.27" r="1.21" fill="#ff1a1a"/>
<circle cx="503.94" cy="85.65" r="1.15" fill="#f00000"/>
<ellipse cx="489.5" cy="109" rx="2.85" ry="2.38" fill="#880000" opacity="0.6"/>
<circle cx="487.75" cy="107.51" r="1.01" fill="#b00000"/>
<circle cx="490.27" cy="107.83" r="0.77" fill="#ff1a1a"/>
<circle cx="487.43" cy="108.28" r="0.75" fill="#f00000"/>
<circle cx="489.04" cy="109.26" r="0.68" fill="#ff1a1a"/>
<circle cx="488.64" cy="109.18" r="0.74" fill="#f00000"/>
<circle cx="487.78" cy="107.63" r="1.04" fill="#d00000"/>
<circle cx="490.58" cy="110.60" r="0.89" fill="#f00000"/>
<circle cx="489.91" cy="108.34" r="0.91" fill="#d00000"/>
<circle cx="489.41" cy="108.56" r="1.07" fill="#f00000"/>
<ellipse cx="509.5" cy="109.5" rx="3.32" ry="4.27" fill="#880000" opacity="0.6"/>
<circle cx="508.45" cy="111.22" r="1.07" fill="#f00000"/>
<circle cx="511.68" cy="108.08" r="0.83" fill="#ff1a1a"/>
<circle cx="509.35" cy="108.98" r="1.34" fill="#b00000"/>
<circle cx="509.83" cy="109.86" r="0.73" fill="#d00000"/>
<circle cx="510.38" cy="112.12" r="0.85" fill="#b00000"/>
<circle cx="510.68" cy="106.99" r="0.83" fill="#d00000"/>
<circle cx="509.83" cy="109.36" r="0.89" fill="#ff1a1a"/>
<circle cx="507.44" cy="109.71" r="0.67" fill="#f00000"/>
<circle cx="511.59" cy="110.86" r="1.10" fill="#b00000"/>
<circle cx="511.11" cy="106.36" r="1.14" fill="#b00000"/>
<circle cx="507.32" cy="111.72" r="1.08" fill="#f00000"/>
<circle cx="508.11" cy="111.63" r="0.87" fill="#ff1a1a"/>
<circle cx="508.97" cy="109.08" r="0.77" fill="#d00000"/>
<circle cx="509.26" cy="107.32" r="0.98" fill="#d00000"/>
<circle cx="508.82" cy="111.54" r="0.99" fill="#ff1a1a"/>
<circle cx="511.50" cy="109.83" r="1.34" fill="#f00000"/>
<circle cx="507.77" cy="107.11" r="0.75" fill="#b00000"/>
<ellipse cx="429.2" cy="118" rx="3.80" ry="4.27" fill="#880000" opacity="0.6"/>
<circle cx="428.85" cy="120.68" r="0.83" fill="#ff1a1a"/>
<circle cx="429.83" cy="117.97" r="1.04" fill="#f00000"/>
<circle cx="431.28" cy="115.58" r="1.09" fill="#f00000"/>
<circle cx="428.02" cy="119.54" r="1.21" fill="#ff1a1a"/>
<circle cx="428.42" cy="116.08" r="1.18" fill="#d00000"/>
<circle cx="426.49" cy="117.83" r="0.90" fill="#b00000"/>
<circle cx="427.76" cy="120.77" r="1.12" fill="#b00000"/>
<circle cx="425.99" cy="117.92" r="1.22" fill="#d00000"/>
<circle cx="430.10" cy="119.41" r="1.27" fill="#b00000"/>
<circle cx="427.43" cy="119.35" r="1.19" fill="#ff1a1a"/>
<circle cx="428.10" cy="117.25" r="1.15" fill="#d00000"/>
<circle cx="428.83" cy="115.19" r="1.31" fill="#d00000"/>
<circle cx="430.53" cy="118.74" r="1.30" fill="#ff1a1a"/>
<circle cx="428.52" cy="120.14" r="0.98" fill="#b00000"/>
<circle cx="428.61" cy="114.39" r="1.24" fill="#d00000"/>
<circle cx="430.64" cy="116.81" r="0.83" fill="#f00000"/>
<circle cx="429.34" cy="114.98" r="0.82" fill="#f00000"/>
<circle cx="429.63" cy="120.37" r="0.79" fill="#d00000"/>
<circle cx="431.00" cy="115.68" r="0.79" fill="#f00000"/>
<circle cx="431.77" cy="117.32" r="0.71" fill="#d00000"/>
<ellipse cx="405.8" cy="124.5" rx="3.32" ry="3.80" fill="#880000" opacity="0.6"/>
<circle cx="405.76" cy="124.26" r="0.84" fill="#f00000"/>
<circle cx="403.98" cy="121.98" r="0.80" fill="#d00000"/>
<circle cx="406.13" cy="124.09" r="0.99" fill="#d00000"/>
<circle cx="407.06" cy="127.31" r="1.21" fill="#f00000"/>
<circle cx="404.59" cy="123.10" r="1.00" fill="#b00000"/>
<circle cx="405.71" cy="126.81" r="0.66" fill="#d00000"/>
<circle cx="403.08" cy="123.18" r="0.69" fill="#d00000"/>
<circle cx="406.02" cy="124.89" r="0.80" fill="#f00000"/>
<circle cx="404.68" cy="126.09" r="0.89" fill="#ff1a1a"/>
<circle cx="404.53" cy="122.30" r="0.88" fill="#d00000"/>
<circle cx="406.60" cy="122.33" r="0.67" fill="#d00000"/>
<circle cx="404.52" cy="122.45" r="1.14" fill="#d00000"/>
<circle cx="404.41" cy="126.39" r="0.84" fill="#d00000"/>
<circle cx="407.85" cy="124.63" r="1.11" fill="#d00000"/>
<circle cx="407.18" cy="126.69" r="0.93" fill="#f00000"/>
<circle cx="407.97" cy="123.46" r="0.74" fill="#ff1a1a"/>
<ellipse cx="434" cy="134.8" rx="3.80" ry="3.80" fill="#880000" opacity="0.6"/>
<circle cx="432.64" cy="134.31" r="1.31" fill="#d00000"/>
<circle cx="433.75" cy="131.58" r="1.26" fill="#ff1a1a"/>
<circle cx="432.02" cy="134.44" r="1.15" fill="#b00000"/>
<circle cx="436.39" cy="134.53" r="1.10" fill="#d00000"/>
<circle cx="435.72" cy="133.56" r="0.80" fill="#f00000"/>
<circle cx="436.27" cy="136.62" r="0.70" fill="#b00000"/>
<circle cx="433.08" cy="133.01" r="0.81" fill="#b00000"/>
<circle cx="431.25" cy="136.55" r="1.31" fill="#ff1a1a"/>
<circle cx="434.48" cy="134.89" r="1.15" fill="#ff1a1a"/>
<circle cx="434.18" cy="136.32" r="1.18" fill="#d00000"/>
<circle cx="432.98" cy="138.03" r="0.80" fill="#ff1a1a"/>
<circle cx="430.75" cy="135.27" r="1.19" fill="#ff1a1a"/>
<circle cx="434.80" cy="133.18" r="0.88" fill="#b00000"/>
<circle cx="435.18" cy="133.58" r="0.87" fill="#b00000"/>
<circle cx="434.18" cy="135.55" r="1.20" fill="#d00000"/>
<circle cx="436.87" cy="135.66" r="0.96" fill="#b00000"/>
<circle cx="436.23" cy="132.24" r="0.86" fill="#f00000"/>
<circle cx="434.45" cy="133.55" r="1.29" fill="#ff1a1a"/>
<ellipse cx="443.7" cy="140.4" rx="4.27" ry="3.80" fill="#880000" opacity="0.6"/>
<circle cx="444.96" cy="139.70" r="1.17" fill="#f00000"/>
<circle cx="443.72" cy="138.08" r="0.93" fill="#b00000"/>
<circle cx="441.74" cy="143.16" r="1.15" fill="#d00000"/>
<circle cx="444.39" cy="140.32" r="0.81" fill="#f00000"/>
<circle cx="446.34" cy="140.97" r="0.81" fill="#b00000"/>
<circle cx="442.66" cy="137.65" r="0.68" fill="#d00000"/>
<circle cx="444.87" cy="140.85" r="1.32" fill="#ff1a1a"/>
<circle cx="443.51" cy="140.37" r="0.81" fill="#ff1a1a"/>
<circle cx="441.81" cy="138.54" r="1.35" fill="#d00000"/>
<circle cx="445.70" cy="137.59" r="0.70" fill="#ff1a1a"/>
<circle cx="445.98" cy="137.73" r="0.81" fill="#f00000"/>
<circle cx="443.47" cy="141.82" r="0.84" fill="#f00000"/>
<circle cx="445.36" cy="140.08" r="0.68" fill="#d00000"/>
<circle cx="443.46" cy="142.33" r="0.68" fill="#b00000"/>
<circle cx="440.97" cy="139.71" r="1.13" fill="#d00000"/>
<circle cx="441.96" cy="141.53" r="0.94" fill="#ff1a1a"/>
<circle cx="441.90" cy="141.78" r="0.94" fill="#ff1a1a"/>
<circle cx="446.14" cy="138.78" r="0.82" fill="#d00000"/>
<circle cx="442.57" cy="137.68" r="1.34" fill="#ff1a1a"/>
<circle cx="443.12" cy="139.54" r="1.08" fill="#f00000"/>
<ellipse cx="454.5" cy="132.4" rx="3.32" ry="4.27" fill="#880000" opacity="0.6"/>
<circle cx="455.06" cy="131.94" r="1.14" fill="#d00000"/>
<circle cx="453.71" cy="130.07" r="1.12" fill="#b00000"/>
<circle cx="454.59" cy="132.38" r="1.17" fill="#b00000"/>
<circle cx="452.22" cy="132.21" r="1.35" fill="#ff1a1a"/>
<circle cx="455.70" cy="129.37" r="1.26" fill="#d00000"/>
<circle cx="454.06" cy="130.07" r="1.02" fill="#d00000"/>
<circle cx="456.89" cy="133.89" r="1.11" fill="#d00000"/>
<circle cx="454.29" cy="135.90" r="1.25" fill="#d00000"/>
<circle cx="452.47" cy="132.04" r="0.80" fill="#ff1a1a"/>
<circle cx="456.87" cy="133.74" r="0.90" fill="#ff1a1a"/>
<circle cx="451.86" cy="131.81" r="0.82" fill="#ff1a1a"/>
<circle cx="455.89" cy="134.95" r="0.77" fill="#f00000"/>
<circle cx="453.72" cy="134.47" r="1.25" fill="#b00000"/>
<circle cx="455.34" cy="133.45" r="0.83" fill="#f00000"/>
<circle cx="452.90" cy="134.74" r="1.02" fill="#d00000"/>
<circle cx="453.66" cy="132.73" r="0.93" fill="#b00000"/>
<circle cx="453.82" cy="129.99" r="0.98" fill="#ff1a1a"/>
<ellipse cx="494.3" cy="137.2" rx="1.90" ry="4.75" fill="#880000" opacity="0.6"/>
<circle cx="494.34" cy="135.56" r="1.13" fill="#d00000"/>
<circle cx="492.92" cy="137.44" r="1.09" fill="#d00000"/>
<circle cx="494.57" cy="135.17" r="1.04" fill="#f00000"/>
<circle cx="493.93" cy="136.76" r="0.77" fill="#d00000"/>
<circle cx="495.04" cy="136.13" r="0.84" fill="#b00000"/>
<circle cx="495.44" cy="139.04" r="1.25" fill="#ff1a1a"/>
<circle cx="495.45" cy="140.20" r="0.85" fill="#d00000"/>
<circle cx="495.56" cy="135.48" r="0.91" fill="#f00000"/>
<circle cx="494.08" cy="134.95" r="0.94" fill="#d00000"/>
<circle cx="493.67" cy="139.31" r="1.06" fill="#ff1a1a"/>
<circle cx="495.85" cy="136.65" r="1.06" fill="#f00000"/>
<circle cx="493.81" cy="135.10" r="0.70" fill="#b00000"/>
<ellipse cx="480.5" cy="143.3" rx="2.38" ry="2.85" fill="#880000" opacity="0.6"/>
<circle cx="479.38" cy="144.57" r="1.00" fill="#f00000"/>
<circle cx="481.74" cy="144.50" r="1.30" fill="#b00000"/>
<circle cx="479.24" cy="144.19" r="1.27" fill="#b00000"/>
<circle cx="479.87" cy="143.86" r="1.18" fill="#f00000"/>
<circle cx="479.62" cy="141.37" r="0.93" fill="#f00000"/>
<circle cx="481.53" cy="142.68" r="0.88" fill="#b00000"/>
<circle cx="480.59" cy="142.43" r="0.80" fill="#f00000"/>
<circle cx="480.26" cy="143.16" r="1.00" fill="#ff1a1a"/>
<circle cx="480.04" cy="143.06" r="1.13" fill="#d00000"/>
<ellipse cx="508.7" cy="133" rx="3.32" ry="3.80" fill="#880000" opacity="0.6"/>
<circle cx="508.01" cy="133.09" r="1.13" fill="#b00000"/>
<circle cx="509.32" cy="131.94" r="0.93" fill="#f00000"/>
<circle cx="509.49" cy="132.07" r="0.88" fill="#f00000"/>
<circle cx="509.55" cy="135.30" r="1.01" fill="#f00000"/>
<circle cx="508.12" cy="134.58" r="1.25" fill="#b00000"/>
<circle cx="506.78" cy="132.85" r="0.69" fill="#d00000"/>
<circle cx="508.72" cy="135.10" r="0.96" fill="#d00000"/>
<circle cx="508.33" cy="134.16" r="0.80" fill="#d00000"/>
<circle cx="510.90" cy="131.87" r="1.15" fill="#ff1a1a"/>
<circle cx="506.93" cy="135.27" r="0.79" fill="#f00000"/>
<circle cx="508.66" cy="132.69" r="0.70" fill="#d00000"/>
<circle cx="510.06" cy="133.35" r="0.96" fill="#ff1a1a"/>
<circle cx="508.05" cy="130.05" r="1.06" fill="#b00000"/>
<circle cx="506.59" cy="134.62" r="0.79" fill="#ff1a1a"/>
<circle cx="510.53" cy="133.79" r="1.10" fill="#f00000"/>
<circle cx="510.52" cy="135.42" r="1.22" fill="#b00000"/>
<ellipse cx="528" cy="128.8" rx="3.32" ry="4.27" fill="#880000" opacity="0.6"/>
<circle cx="529.21" cy="132.13" r="1.04" fill="#ff1a1a"/>
<circle cx="525.56" cy="128.84" r="1.12" fill="#d00000"/>
<circle cx="528.70" cy="126.15" r="0.76" fill="#ff1a1a"/>
<circle cx="525.98" cy="128.53" r="0.79" fill="#f00000"/>
<circle cx="529.83" cy="128.05" r="1.11" fill="#d00000"/>
<circle cx="527.46" cy="126.35" r="0.95" fill="#f00000"/>
<circle cx="528.96" cy="128.16" r="0.76" fill="#b00000"/>
<circle cx="527.61" cy="130.58" r="1.06" fill="#d00000"/>
<circle cx="527.33" cy="125.67" r="0.87" fill="#d00000"/>
<circle cx="526.77" cy="131.93" r="0.76" fill="#ff1a1a"/>
<circle cx="527.58" cy="129.24" r="0.92" fill="#d00000"/>
<circle cx="528.37" cy="131.59" r="0.72" fill="#b00000"/>
<circle cx="528.76" cy="130.12" r="0.88" fill="#b00000"/>
<circle cx="530.04" cy="131.09" r="0.74" fill="#ff1a1a"/>
<circle cx="530.88" cy="128.71" r="1.02" fill="#d00000"/>
<circle cx="527.60" cy="128.83" r="1.20" fill="#f00000"/>
<circle cx="528.48" cy="130.73" r="0.86" fill="#f00000"/>
<ellipse cx="512.3" cy="152.9" rx="3.80" ry="4.27" fill="#880000" opacity="0.6"/>
<circle cx="513.00" cy="155.40" r="1.19" fill="#ff1a1a"/>
<circle cx="510.66" cy="151.91" r="1.06" fill="#f00000"/>
<circle cx="514.25" cy="152.44" r="1.31" fill="#d00000"/>
<circle cx="514.17" cy="153.58" r="0.96" fill="#ff1a1a"/>
<circle cx="511.32" cy="154.93" r="0.73" fill="#d00000"/>
<circle cx="513.35" cy="149.87" r="0.97" fill="#f00000"/>
<circle cx="512.92" cy="150.03" r="0.97" fill="#f00000"/>
<circle cx="514.81" cy="153.62" r="0.94" fill="#ff1a1a"/>
<circle cx="509.62" cy="154.68" r="0.70" fill="#ff1a1a"/>
<circle cx="510.54" cy="155.31" r="0.71" fill="#f00000"/>
<circle cx="514.04" cy="149.91" r="0.99" fill="#ff1a1a"/>
<circle cx="512.22" cy="154.15" r="0.82" fill="#ff1a1a"/>
<circle cx="509.81" cy="152.97" r="0.73" fill="#b00000"/>
<circle cx="512.37" cy="155.78" r="0.68" fill="#d00000"/>
<circle cx="511.29" cy="154.16" r="0.93" fill="#ff1a1a"/>
<circle cx="515.53" cy="152.63" r="1.16" fill="#ff1a1a"/>
<circle cx="512.62" cy="152.60" r="1.31" fill="#b00000"/>
<circle cx="513.04" cy="149.81" r="0.80" fill="#ff1a1a"/>
<circle cx="513.50" cy="153.72" r="1.24" fill="#f00000"/>
<circle cx="509.91" cy="154.29" r="0.73" fill="#f00000"/>
<ellipse cx="391.9" cy="157.7" rx="3.80" ry="4.75" fill="#880000" opacity="0.6"/>
<circle cx="394.13" cy="159.33" r="0.81" fill="#f00000"/>
<circle cx="392.30" cy="156.66" r="0.89" fill="#f00000"/>
<circle cx="394.48" cy="158.56" r="1.13" fill="#d00000"/>
<circle cx="390.23" cy="160.90" r="0.97" fill="#ff1a1a"/>
<circle cx="395.19" cy="157.98" r="0.94" fill="#b00000"/>
<circle cx="394.86" cy="158.46" r="0.75" fill="#ff1a1a"/>
<circle cx="393.06" cy="159.73" r="0.75" fill="#ff1a1a"/>
<circle cx="394.41" cy="156.10" r="1.15" fill="#f00000"/>
<circle cx="394.92" cy="157.64" r="0.99" fill="#b00000"/>
<circle cx="389.97" cy="157.31" r="0.70" fill="#f00000"/>
<circle cx="392.75" cy="160.89" r="1.24" fill="#b00000"/>
<circle cx="394.31" cy="159.67" r="0.89" fill="#ff1a1a"/>
<circle cx="392.68" cy="154.88" r="1.19" fill="#b00000"/>
<circle cx="393.95" cy="160.60" r="1.31" fill="#f00000"/>
<circle cx="391.80" cy="153.82" r="1.21" fill="#ff1a1a"/>
<circle cx="389.06" cy="159.23" r="1.20" fill="#d00000"/>
<circle cx="391.87" cy="154.43" r="1.11" fill="#f00000"/>
<circle cx="394.64" cy="159.26" r="1.21" fill="#ff1a1a"/>
<circle cx="392.06" cy="160.95" r="1.04" fill="#b00000"/>
<circle cx="388.97" cy="155.84" r="1.27" fill="#f00000"/>
<circle cx="389.56" cy="160.06" r="1.21" fill="#d00000"/>
<circle cx="392.89" cy="155.29" r="0.71" fill="#d00000"/>
<ellipse cx="383.4" cy="162.5" rx="2.85" ry="4.75" fill="#880000" opacity="0.6"/>
<circle cx="382.14" cy="159.04" r="0.95" fill="#d00000"/>
<circle cx="385.18" cy="162.58" r="0.66" fill="#f00000"/>
<circle cx="384.67" cy="160.47" r="0.94" fill="#d00000"/>
<circle cx="381.98" cy="163.15" r="0.80" fill="#d00000"/>
<circle cx="382.03" cy="164.29" r="0.67" fill="#d00000"/>
<circle cx="384.53" cy="163.66" r="1.14" fill="#b00000"/>
<circle cx="381.84" cy="164.21" r="0.82" fill="#ff1a1a"/>
<circle cx="383.19" cy="161.71" r="1.23" fill="#ff1a1a"/>
<circle cx="382.27" cy="164.07" r="0.76" fill="#ff1a1a"/>
<circle cx="383.79" cy="166.46" r="1.08" fill="#b00000"/>
<circle cx="382.88" cy="164.74" r="1.26" fill="#ff1a1a"/>
<circle cx="384.96" cy="159.22" r="0.92" fill="#f00000"/>
<circle cx="384.47" cy="162.50" r="1.31" fill="#b00000"/>
<circle cx="381.50" cy="161.13" r="1.17" fill="#f00000"/>
<circle cx="385.58" cy="162.15" r="1.18" fill="#b00000"/>
<circle cx="384.86" cy="165.27" r="0.83" fill="#b00000"/>
<circle cx="385.19" cy="164.04" r="0.96" fill="#d00000"/>
<ellipse cx="464.2" cy="169.8" rx="2.85" ry="4.75" fill="#880000" opacity="0.6"/>
<circle cx="462.86" cy="172.44" r="1.09" fill="#b00000"/>
<circle cx="466.32" cy="168.34" r="0.69" fill="#b00000"/>
<circle cx="462.08" cy="169.95" r="0.66" fill="#f00000"/>
<circle cx="462.60" cy="168.80" r="1.18" fill="#ff1a1a"/>
<circle cx="463.91" cy="166.15" r="0.67" fill="#d00000"/>
<circle cx="463.99" cy="169.84" r="1.31" fill="#d00000"/>
<circle cx="465.40" cy="172.37" r="1.05" fill="#f00000"/>
<circle cx="465.26" cy="169.77" r="1.06" fill="#d00000"/>
<circle cx="463.33" cy="168.30" r="1.19" fill="#f00000"/>
<circle cx="461.98" cy="171.81" r="1.10" fill="#b00000"/>
<circle cx="461.69" cy="169.99" r="0.90" fill="#d00000"/>
<circle cx="463.15" cy="173.27" r="1.00" fill="#f00000"/>
<circle cx="464.61" cy="167.39" r="0.75" fill="#f00000"/>
<circle cx="465.35" cy="172.91" r="0.77" fill="#d00000"/>
<circle cx="465.83" cy="168.01" r="1.33" fill="#d00000"/>
<circle cx="465.27" cy="169.37" r="0.87" fill="#b00000"/>
<circle cx="464.67" cy="172.08" r="0.96" fill="#f00000"/>
<ellipse cx="490.7" cy="185.4" rx="3.32" ry="3.80" fill="#880000" opacity="0.6"/>
<circle cx="489.95" cy="183.54" r="0.87" fill="#b00000"/>
<circle cx="490.56" cy="186.93" r="1.29" fill="#b00000"/>
<circle cx="488.80" cy="185.38" r="0.76" fill="#d00000"/>
<circle cx="492.21" cy="185.89" r="1.02" fill="#b00000"/>
<circle cx="490.73" cy="183.62" r="0.90" fill="#b00000"/>
<circle cx="489.13" cy="185.07" r="1.09" fill="#d00000"/>
<circle cx="490.39" cy="185.51" r="1.02" fill="#d00000"/>
<circle cx="488.95" cy="188.02" r="0.84" fill="#ff1a1a"/>
<circle cx="492.80" cy="183.31" r="0.72" fill="#b00000"/>
<circle cx="491.97" cy="182.93" r="1.30" fill="#ff1a1a"/>
<circle cx="488.90" cy="182.76" r="1.09" fill="#f00000"/>
<circle cx="490.99" cy="183.29" r="1.31" fill="#d00000"/>
<circle cx="489.00" cy="186.81" r="0.89" fill="#ff1a1a"/>
<circle cx="490.43" cy="184.15" r="1.16" fill="#b00000"/>
<circle cx="489.33" cy="182.58" r="0.74" fill="#d00000"/>
<circle cx="489.51" cy="182.43" r="0.70" fill="#f00000"/>
<ellipse cx="535" cy="177" rx="1.42" ry="2.38" fill="#880000" opacity="0.6"/>
<circle cx="535.62" cy="175.61" r="1.05" fill="#b00000"/>
<circle cx="535.24" cy="178.77" r="1.20" fill="#ff1a1a"/>
<circle cx="535.61" cy="178.42" r="1.18" fill="#f00000"/>
<circle cx="535.97" cy="175.80" r="1.17" fill="#b00000"/>
<circle cx="535.33" cy="176.47" r="1.14" fill="#b00000"/>
</g></g>
<rect x="138.7" y="159.2" width="44.6" height="1.5" fill="#d8d8d8"/>
<text x="146.9" y="169.6" font-size="9.6" font-weight="normal" text-anchor="start" fill="#f0f0f0" textLength="28.1" lengthAdjust="spacingAndGlyphs" font-family='"Liberation Serif", serif' >200 µm</text>
<text x="14.2" y="213.7" font-size="22" font-weight="bold" text-anchor="start" fill="#000" textLength="12.1" lengthAdjust="spacingAndGlyphs" >b</text>
<text x="116.7" y="236.2" font-size="13.5" font-weight="bold" text-anchor="start" fill="#000" textLength="23.5" lengthAdjust="spacingAndGlyphs" >24h</text>
<path d="M46.5 242.5H225.5V400.9" fill="none" stroke="#8e8e8e" stroke-width="1"/>
<line x1="46.5" y1="242.5" x2="46.5" y2="401.7" stroke="#666" stroke-width="1.1"/>
<line x1="41.2" y1="400.90" x2="46.5" y2="400.90" stroke="#111" stroke-width="1.6"/>
<text x="37.3" y="400.4" font-size="7.8" font-weight="bold" text-anchor="end" fill="#111" >0</text>
<line x1="43.7" y1="393.36" x2="46.5" y2="393.36" stroke="#111" stroke-width="1.2"/>
<line x1="43.7" y1="385.82" x2="46.5" y2="385.82" stroke="#111" stroke-width="1.2"/>
<line x1="43.7" y1="378.28" x2="46.5" y2="378.28" stroke="#111" stroke-width="1.2"/>
<line x1="41.2" y1="370.74" x2="46.5" y2="370.74" stroke="#111" stroke-width="1.6"/>
<text x="37.3" y="373.54" font-size="7.8" font-weight="bold" text-anchor="end" fill="#111" >20</text>
<line x1="43.7" y1="363.20" x2="46.5" y2="363.20" stroke="#111" stroke-width="1.2"/>
<line x1="43.7" y1="355.66" x2="46.5" y2="355.66" stroke="#111" stroke-width="1.2"/>
<line x1="43.7" y1="348.12" x2="46.5" y2="348.12" stroke="#111" stroke-width="1.2"/>
<line x1="41.2" y1="340.58" x2="46.5" y2="340.58" stroke="#111" stroke-width="1.6"/>
<text x="37.3" y="343.38" font-size="7.8" font-weight="bold" text-anchor="end" fill="#111" >40</text>
<line x1="43.7" y1="333.04" x2="46.5" y2="333.04" stroke="#111" stroke-width="1.2"/>
<line x1="43.7" y1="325.50" x2="46.5" y2="325.50" stroke="#111" stroke-width="1.2"/>
<line x1="43.7" y1="317.96" x2="46.5" y2="317.96" stroke="#111" stroke-width="1.2"/>
<line x1="41.2" y1="310.42" x2="46.5" y2="310.42" stroke="#111" stroke-width="1.6"/>
<text x="37.3" y="313.21999999999997" font-size="7.8" font-weight="bold" text-anchor="end" fill="#111" >60</text>
<line x1="43.7" y1="302.88" x2="46.5" y2="302.88" stroke="#111" stroke-width="1.2"/>
<line x1="43.7" y1="295.34" x2="46.5" y2="295.34" stroke="#111" stroke-width="1.2"/>
<line x1="43.7" y1="287.80" x2="46.5" y2="287.80" stroke="#111" stroke-width="1.2"/>
<line x1="41.2" y1="280.26" x2="46.5" y2="280.26" stroke="#111" stroke-width="1.6"/>
<text x="37.3" y="283.06" font-size="7.8" font-weight="bold" text-anchor="end" fill="#111" >80</text>
<line x1="43.7" y1="272.72" x2="46.5" y2="272.72" stroke="#111" stroke-width="1.2"/>
<line x1="43.7" y1="265.18" x2="46.5" y2="265.18" stroke="#111" stroke-width="1.2"/>
<line x1="43.7" y1="257.64" x2="46.5" y2="257.64" stroke="#111" stroke-width="1.2"/>
<line x1="41.2" y1="250.10" x2="46.5" y2="250.10" stroke="#111" stroke-width="1.6"/>
<text x="37.3" y="252.9" font-size="7.8" font-weight="bold" text-anchor="end" fill="#111" >100</text>
<line x1="43.7" y1="242.56" x2="46.5" y2="242.56" stroke="#111" stroke-width="1.2"/>
<line x1="50.87" y1="400.9" x2="50.87" y2="403.9" stroke="#111" stroke-width="1.4"/>
<line x1="55.53" y1="400.9" x2="55.53" y2="403.9" stroke="#111" stroke-width="1.4"/>
<line x1="59.34" y1="400.9" x2="59.34" y2="403.9" stroke="#111" stroke-width="1.4"/>
<line x1="62.55" y1="400.9" x2="62.55" y2="403.9" stroke="#111" stroke-width="1.4"/>
<line x1="65.34" y1="400.9" x2="65.34" y2="403.9" stroke="#111" stroke-width="1.4"/>
<line x1="67.80" y1="400.9" x2="67.80" y2="403.9" stroke="#111" stroke-width="1.4"/>
<line x1="70.00" y1="400.9" x2="70.00" y2="405.9" stroke="#111" stroke-width="1.7"/>
<line x1="84.47" y1="400.9" x2="84.47" y2="403.9" stroke="#111" stroke-width="1.4"/>
<line x1="92.93" y1="400.9" x2="92.93" y2="403.9" stroke="#111" stroke-width="1.4"/>
<line x1="98.94" y1="400.9" x2="98.94" y2="403.9" stroke="#111" stroke-width="1.4"/>
<line x1="103.60" y1="400.9" x2="103.60" y2="403.9" stroke="#111" stroke-width="1.4"/>
<line x1="107.40" y1="400.9" x2="107.40" y2="403.9" stroke="#111" stroke-width="1.4"/>
<line x1="110.62" y1="400.9" x2="110.62" y2="403.9" stroke="#111" stroke-width="1.4"/>
<line x1="113.41" y1="400.9" x2="113.41" y2="403.9" stroke="#111" stroke-width="1.4"/>
<line x1="115.87" y1="400.9" x2="115.87" y2="403.9" stroke="#111" stroke-width="1.4"/>
<line x1="118.07" y1="400.9" x2="118.07" y2="405.9" stroke="#111" stroke-width="1.7"/>
<line x1="132.54" y1="400.9" x2="132.54" y2="403.9" stroke="#111" stroke-width="1.4"/>
<line x1="141.00" y1="400.9" x2="141.00" y2="403.9" stroke="#111" stroke-width="1.4"/>
<line x1="147.01" y1="400.9" x2="147.01" y2="403.9" stroke="#111" stroke-width="1.4"/>
<line x1="151.66" y1="400.9" x2="151.66" y2="403.9" stroke="#111" stroke-width="1.4"/>
<line x1="155.47" y1="400.9" x2="155.47" y2="403.9" stroke="#111" stroke-width="1.4"/>
<line x1="158.69" y1="400.9" x2="158.69" y2="403.9" stroke="#111" stroke-width="1.4"/>
<line x1="161.48" y1="400.9" x2="161.48" y2="403.9" stroke="#111" stroke-width="1.4"/>
<line x1="163.93" y1="400.9" x2="163.93" y2="403.9" stroke="#111" stroke-width="1.4"/>
<line x1="166.13" y1="400.9" x2="166.13" y2="405.9" stroke="#111" stroke-width="1.7"/>
<line x1="180.60" y1="400.9" x2="180.60" y2="403.9" stroke="#111" stroke-width="1.4"/>
<line x1="189.07" y1="400.9" x2="189.07" y2="403.9" stroke="#111" stroke-width="1.4"/>
<line x1="195.07" y1="400.9" x2="195.07" y2="403.9" stroke="#111" stroke-width="1.4"/>
<line x1="199.73" y1="400.9" x2="199.73" y2="403.9" stroke="#111" stroke-width="1.4"/>
<line x1="203.54" y1="400.9" x2="203.54" y2="403.9" stroke="#111" stroke-width="1.4"/>
<line x1="206.75" y1="400.9" x2="206.75" y2="403.9" stroke="#111" stroke-width="1.4"/>
<line x1="209.54" y1="400.9" x2="209.54" y2="403.9" stroke="#111" stroke-width="1.4"/>
<line x1="212.00" y1="400.9" x2="212.00" y2="403.9" stroke="#111" stroke-width="1.4"/>
<line x1="214.20" y1="400.9" x2="214.20" y2="405.9" stroke="#111" stroke-width="1.7"/>
<text x="69.0" y="416.9" font-size="8.2" font-weight="bold" text-anchor="start" fill="#111" textLength="7.6" lengthAdjust="spacingAndGlyphs" >10</text>
<text x="78.3" y="411.79999999999995" font-size="7.4" font-weight="bold" text-anchor="start" fill="#111" >3</text>
<text x="117.2" y="416.9" font-size="8.2" font-weight="bold" text-anchor="start" fill="#111" textLength="7.6" lengthAdjust="spacingAndGlyphs" >10</text>
<text x="126.5" y="411.79999999999995" font-size="7.4" font-weight="bold" text-anchor="start" fill="#111" >4</text>
<text x="165.2" y="416.9" font-size="8.2" font-weight="bold" text-anchor="start" fill="#111" textLength="7.6" lengthAdjust="spacingAndGlyphs" >10</text>
<text x="174.5" y="411.79999999999995" font-size="7.4" font-weight="bold" text-anchor="start" fill="#111" >5</text>
<text x="213.2" y="416.9" font-size="8.2" font-weight="bold" text-anchor="start" fill="#111" textLength="7.6" lengthAdjust="spacingAndGlyphs" >10</text>
<text x="222.5" y="411.79999999999995" font-size="7.4" font-weight="bold" text-anchor="start" fill="#111" >6</text>
<line x1="46.0" y1="400.9" x2="225.5" y2="400.9" stroke="#111" stroke-width="1.6"/>
<text x="318.0" y="236.2" font-size="13.5" font-weight="bold" text-anchor="start" fill="#000" textLength="23.5" lengthAdjust="spacingAndGlyphs" >48h</text>
<path d="M251.0 242.5H429.5V402.7" fill="none" stroke="#8e8e8e" stroke-width="1"/>
<line x1="251.0" y1="242.5" x2="251.0" y2="403.5" stroke="#666" stroke-width="1.1"/>
<line x1="245.7" y1="402.70" x2="251.0" y2="402.70" stroke="#111" stroke-width="1.6"/>
<text x="241.8" y="402.2" font-size="7.8" font-weight="bold" text-anchor="end" fill="#111" >0</text>
<line x1="248.2" y1="395.07" x2="251.0" y2="395.07" stroke="#111" stroke-width="1.2"/>
<line x1="248.2" y1="387.45" x2="251.0" y2="387.45" stroke="#111" stroke-width="1.2"/>
<line x1="248.2" y1="379.82" x2="251.0" y2="379.82" stroke="#111" stroke-width="1.2"/>
<line x1="245.7" y1="372.20" x2="251.0" y2="372.20" stroke="#111" stroke-width="1.6"/>
<text x="241.8" y="375.0" font-size="7.8" font-weight="bold" text-anchor="end" fill="#111" >20</text>
<line x1="248.2" y1="364.57" x2="251.0" y2="364.57" stroke="#111" stroke-width="1.2"/>
<line x1="248.2" y1="356.95" x2="251.0" y2="356.95" stroke="#111" stroke-width="1.2"/>
<line x1="248.2" y1="349.32" x2="251.0" y2="349.32" stroke="#111" stroke-width="1.2"/>
<line x1="245.7" y1="341.70" x2="251.0" y2="341.70" stroke="#111" stroke-width="1.6"/>
<text x="241.8" y="344.5" font-size="7.8" font-weight="bold" text-anchor="end" fill="#111" >40</text>
<line x1="248.2" y1="334.07" x2="251.0" y2="334.07" stroke="#111" stroke-width="1.2"/>
<line x1="248.2" y1="326.45" x2="251.0" y2="326.45" stroke="#111" stroke-width="1.2"/>
<line x1="248.2" y1="318.82" x2="251.0" y2="318.82" stroke="#111" stroke-width="1.2"/>
<line x1="245.7" y1="311.20" x2="251.0" y2="311.20" stroke="#111" stroke-width="1.6"/>
<text x="241.8" y="314.0" font-size="7.8" font-weight="bold" text-anchor="end" fill="#111" >60</text>
<line x1="248.2" y1="303.57" x2="251.0" y2="303.57" stroke="#111" stroke-width="1.2"/>
<line x1="248.2" y1="295.95" x2="251.0" y2="295.95" stroke="#111" stroke-width="1.2"/>
<line x1="248.2" y1="288.32" x2="251.0" y2="288.32" stroke="#111" stroke-width="1.2"/>
<line x1="245.7" y1="280.70" x2="251.0" y2="280.70" stroke="#111" stroke-width="1.6"/>
<text x="241.8" y="283.5" font-size="7.8" font-weight="bold" text-anchor="end" fill="#111" >80</text>
<line x1="248.2" y1="273.07" x2="251.0" y2="273.07" stroke="#111" stroke-width="1.2"/>
<line x1="248.2" y1="265.45" x2="251.0" y2="265.45" stroke="#111" stroke-width="1.2"/>
<line x1="248.2" y1="257.82" x2="251.0" y2="257.82" stroke="#111" stroke-width="1.2"/>
<line x1="245.7" y1="250.20" x2="251.0" y2="250.20" stroke="#111" stroke-width="1.6"/>
<text x="241.8" y="253.0" font-size="7.8" font-weight="bold" text-anchor="end" fill="#111" >100</text>
<line x1="248.2" y1="242.57" x2="251.0" y2="242.57" stroke="#111" stroke-width="1.2"/>
<line x1="255.65" y1="402.7" x2="255.65" y2="405.7" stroke="#111" stroke-width="1.4"/>
<line x1="260.31" y1="402.7" x2="260.31" y2="405.7" stroke="#111" stroke-width="1.4"/>
<line x1="264.12" y1="402.7" x2="264.12" y2="405.7" stroke="#111" stroke-width="1.4"/>
<line x1="267.34" y1="402.7" x2="267.34" y2="405.7" stroke="#111" stroke-width="1.4"/>
<line x1="270.14" y1="402.7" x2="270.14" y2="405.7" stroke="#111" stroke-width="1.4"/>
<line x1="272.60" y1="402.7" x2="272.60" y2="405.7" stroke="#111" stroke-width="1.4"/>
<line x1="274.80" y1="402.7" x2="274.80" y2="407.7" stroke="#111" stroke-width="1.7"/>
<line x1="289.29" y1="402.7" x2="289.29" y2="405.7" stroke="#111" stroke-width="1.4"/>
<line x1="297.77" y1="402.7" x2="297.77" y2="405.7" stroke="#111" stroke-width="1.4"/>
<line x1="303.78" y1="402.7" x2="303.78" y2="405.7" stroke="#111" stroke-width="1.4"/>
<line x1="308.44" y1="402.7" x2="308.44" y2="405.7" stroke="#111" stroke-width="1.4"/>
<line x1="312.26" y1="402.7" x2="312.26" y2="405.7" stroke="#111" stroke-width="1.4"/>
<line x1="315.48" y1="402.7" x2="315.48" y2="405.7" stroke="#111" stroke-width="1.4"/>
<line x1="318.27" y1="402.7" x2="318.27" y2="405.7" stroke="#111" stroke-width="1.4"/>
<line x1="320.73" y1="402.7" x2="320.73" y2="405.7" stroke="#111" stroke-width="1.4"/>
<line x1="322.93" y1="402.7" x2="322.93" y2="407.7" stroke="#111" stroke-width="1.7"/>
<line x1="337.42" y1="402.7" x2="337.42" y2="405.7" stroke="#111" stroke-width="1.4"/>
<line x1="345.90" y1="402.7" x2="345.90" y2="405.7" stroke="#111" stroke-width="1.4"/>
<line x1="351.91" y1="402.7" x2="351.91" y2="405.7" stroke="#111" stroke-width="1.4"/>
<line x1="356.58" y1="402.7" x2="356.58" y2="405.7" stroke="#111" stroke-width="1.4"/>
<line x1="360.39" y1="402.7" x2="360.39" y2="405.7" stroke="#111" stroke-width="1.4"/>
<line x1="363.61" y1="402.7" x2="363.61" y2="405.7" stroke="#111" stroke-width="1.4"/>
<line x1="366.40" y1="402.7" x2="366.40" y2="405.7" stroke="#111" stroke-width="1.4"/>
<line x1="368.86" y1="402.7" x2="368.86" y2="405.7" stroke="#111" stroke-width="1.4"/>
<line x1="371.07" y1="402.7" x2="371.07" y2="407.7" stroke="#111" stroke-width="1.7"/>
<line x1="385.56" y1="402.7" x2="385.56" y2="405.7" stroke="#111" stroke-width="1.4"/>
<line x1="394.03" y1="402.7" x2="394.03" y2="405.7" stroke="#111" stroke-width="1.4"/>
<line x1="400.05" y1="402.7" x2="400.05" y2="405.7" stroke="#111" stroke-width="1.4"/>
<line x1="404.71" y1="402.7" x2="404.71" y2="405.7" stroke="#111" stroke-width="1.4"/>
<line x1="408.52" y1="402.7" x2="408.52" y2="405.7" stroke="#111" stroke-width="1.4"/>
<line x1="411.74" y1="402.7" x2="411.74" y2="405.7" stroke="#111" stroke-width="1.4"/>
<line x1="414.54" y1="402.7" x2="414.54" y2="405.7" stroke="#111" stroke-width="1.4"/>
<line x1="417.00" y1="402.7" x2="417.00" y2="405.7" stroke="#111" stroke-width="1.4"/>
<line x1="419.20" y1="402.7" x2="419.20" y2="407.7" stroke="#111" stroke-width="1.7"/>
<text x="273.8" y="418.7" font-size="8.2" font-weight="bold" text-anchor="start" fill="#111" textLength="7.6" lengthAdjust="spacingAndGlyphs" >10</text>
<text x="283.1" y="413.59999999999997" font-size="7.4" font-weight="bold" text-anchor="start" fill="#111" >3</text>
<text x="322.0" y="418.7" font-size="8.2" font-weight="bold" text-anchor="start" fill="#111" textLength="7.6" lengthAdjust="spacingAndGlyphs" >10</text>
<text x="331.3" y="413.59999999999997" font-size="7.4" font-weight="bold" text-anchor="start" fill="#111" >4</text>
<text x="370.2" y="418.7" font-size="8.2" font-weight="bold" text-anchor="start" fill="#111" textLength="7.6" lengthAdjust="spacingAndGlyphs" >10</text>
<text x="379.5" y="413.59999999999997" font-size="7.4" font-weight="bold" text-anchor="start" fill="#111" >5</text>
<text x="418.2" y="418.7" font-size="8.2" font-weight="bold" text-anchor="start" fill="#111" textLength="7.6" lengthAdjust="spacingAndGlyphs" >10</text>
<text x="427.5" y="413.59999999999997" font-size="7.4" font-weight="bold" text-anchor="start" fill="#111" >6</text>
<line x1="250.5" y1="402.7" x2="429.5" y2="402.7" stroke="#111" stroke-width="1.6"/>
<text x="522.5" y="236.2" font-size="13.5" font-weight="bold" text-anchor="start" fill="#000" textLength="23.5" lengthAdjust="spacingAndGlyphs" >72h</text>
<path d="M455.8 242.8H629.5V403.6" fill="none" stroke="#8e8e8e" stroke-width="1"/>
<line x1="455.8" y1="242.8" x2="455.8" y2="404.40000000000003" stroke="#666" stroke-width="1.1"/>
<line x1="450.5" y1="403.60" x2="455.8" y2="403.60" stroke="#111" stroke-width="1.6"/>
<text x="446.6" y="403.1" font-size="7.8" font-weight="bold" text-anchor="end" fill="#111" >0</text>
<line x1="453.0" y1="395.94" x2="455.8" y2="395.94" stroke="#111" stroke-width="1.2"/>
<line x1="453.0" y1="388.28" x2="455.8" y2="388.28" stroke="#111" stroke-width="1.2"/>
<line x1="453.0" y1="380.62" x2="455.8" y2="380.62" stroke="#111" stroke-width="1.2"/>
<line x1="450.5" y1="372.96" x2="455.8" y2="372.96" stroke="#111" stroke-width="1.6"/>
<text x="446.6" y="375.76000000000005" font-size="7.8" font-weight="bold" text-anchor="end" fill="#111" >20</text>
<line x1="453.0" y1="365.30" x2="455.8" y2="365.30" stroke="#111" stroke-width="1.2"/>
<line x1="453.0" y1="357.64" x2="455.8" y2="357.64" stroke="#111" stroke-width="1.2"/>
<line x1="453.0" y1="349.98" x2="455.8" y2="349.98" stroke="#111" stroke-width="1.2"/>
<line x1="450.5" y1="342.32" x2="455.8" y2="342.32" stroke="#111" stroke-width="1.6"/>
<text x="446.6" y="345.12" font-size="7.8" font-weight="bold" text-anchor="end" fill="#111" >40</text>
<line x1="453.0" y1="334.66" x2="455.8" y2="334.66" stroke="#111" stroke-width="1.2"/>
<line x1="453.0" y1="327.00" x2="455.8" y2="327.00" stroke="#111" stroke-width="1.2"/>
<line x1="453.0" y1="319.34" x2="455.8" y2="319.34" stroke="#111" stroke-width="1.2"/>
<line x1="450.5" y1="311.68" x2="455.8" y2="311.68" stroke="#111" stroke-width="1.6"/>
<text x="446.6" y="314.48" font-size="7.8" font-weight="bold" text-anchor="end" fill="#111" >60</text>
<line x1="453.0" y1="304.02" x2="455.8" y2="304.02" stroke="#111" stroke-width="1.2"/>
<line x1="453.0" y1="296.36" x2="455.8" y2="296.36" stroke="#111" stroke-width="1.2"/>
<line x1="453.0" y1="288.70" x2="455.8" y2="288.70" stroke="#111" stroke-width="1.2"/>
<line x1="450.5" y1="281.04" x2="455.8" y2="281.04" stroke="#111" stroke-width="1.6"/>
<text x="446.6" y="283.84000000000003" font-size="7.8" font-weight="bold" text-anchor="end" fill="#111" >80</text>
<line x1="453.0" y1="273.38" x2="455.8" y2="273.38" stroke="#111" stroke-width="1.2"/>
<line x1="453.0" y1="265.72" x2="455.8" y2="265.72" stroke="#111" stroke-width="1.2"/>
<line x1="453.0" y1="258.06" x2="455.8" y2="258.06" stroke="#111" stroke-width="1.2"/>
<line x1="450.5" y1="250.40" x2="455.8" y2="250.40" stroke="#111" stroke-width="1.6"/>
<text x="446.6" y="253.20000000000002" font-size="7.8" font-weight="bold" text-anchor="end" fill="#111" >100</text>
<line x1="453.0" y1="242.74" x2="455.8" y2="242.74" stroke="#111" stroke-width="1.2"/>
<line x1="460.40" y1="403.6" x2="460.40" y2="406.6" stroke="#111" stroke-width="1.4"/>
<line x1="464.90" y1="403.6" x2="464.90" y2="406.6" stroke="#111" stroke-width="1.4"/>
<line x1="468.58" y1="403.6" x2="468.58" y2="406.6" stroke="#111" stroke-width="1.4"/>
<line x1="471.70" y1="403.6" x2="471.70" y2="406.6" stroke="#111" stroke-width="1.4"/>
<line x1="474.39" y1="403.6" x2="474.39" y2="406.6" stroke="#111" stroke-width="1.4"/>
<line x1="476.77" y1="403.6" x2="476.77" y2="406.6" stroke="#111" stroke-width="1.4"/>
<line x1="478.90" y1="403.6" x2="478.90" y2="408.6" stroke="#111" stroke-width="1.7"/>
<line x1="492.90" y1="403.6" x2="492.90" y2="406.6" stroke="#111" stroke-width="1.4"/>
<line x1="501.09" y1="403.6" x2="501.09" y2="406.6" stroke="#111" stroke-width="1.4"/>
<line x1="506.90" y1="403.6" x2="506.90" y2="406.6" stroke="#111" stroke-width="1.4"/>
<line x1="511.40" y1="403.6" x2="511.40" y2="406.6" stroke="#111" stroke-width="1.4"/>
<line x1="515.08" y1="403.6" x2="515.08" y2="406.6" stroke="#111" stroke-width="1.4"/>
<line x1="518.20" y1="403.6" x2="518.20" y2="406.6" stroke="#111" stroke-width="1.4"/>
<line x1="520.89" y1="403.6" x2="520.89" y2="406.6" stroke="#111" stroke-width="1.4"/>
<line x1="523.27" y1="403.6" x2="523.27" y2="406.6" stroke="#111" stroke-width="1.4"/>
<line x1="525.40" y1="403.6" x2="525.40" y2="408.6" stroke="#111" stroke-width="1.7"/>
<line x1="539.40" y1="403.6" x2="539.40" y2="406.6" stroke="#111" stroke-width="1.4"/>
<line x1="547.59" y1="403.6" x2="547.59" y2="406.6" stroke="#111" stroke-width="1.4"/>
<line x1="553.40" y1="403.6" x2="553.40" y2="406.6" stroke="#111" stroke-width="1.4"/>
<line x1="557.90" y1="403.6" x2="557.90" y2="406.6" stroke="#111" stroke-width="1.4"/>
<line x1="561.58" y1="403.6" x2="561.58" y2="406.6" stroke="#111" stroke-width="1.4"/>
<line x1="564.70" y1="403.6" x2="564.70" y2="406.6" stroke="#111" stroke-width="1.4"/>
<line x1="567.39" y1="403.6" x2="567.39" y2="406.6" stroke="#111" stroke-width="1.4"/>
<line x1="569.77" y1="403.6" x2="569.77" y2="406.6" stroke="#111" stroke-width="1.4"/>
<line x1="571.90" y1="403.6" x2="571.90" y2="408.6" stroke="#111" stroke-width="1.7"/>
<line x1="585.90" y1="403.6" x2="585.90" y2="406.6" stroke="#111" stroke-width="1.4"/>
<line x1="594.09" y1="403.6" x2="594.09" y2="406.6" stroke="#111" stroke-width="1.4"/>
<line x1="599.90" y1="403.6" x2="599.90" y2="406.6" stroke="#111" stroke-width="1.4"/>
<line x1="604.40" y1="403.6" x2="604.40" y2="406.6" stroke="#111" stroke-width="1.4"/>
<line x1="608.08" y1="403.6" x2="608.08" y2="406.6" stroke="#111" stroke-width="1.4"/>
<line x1="611.20" y1="403.6" x2="611.20" y2="406.6" stroke="#111" stroke-width="1.4"/>
<line x1="613.89" y1="403.6" x2="613.89" y2="406.6" stroke="#111" stroke-width="1.4"/>
<line x1="616.27" y1="403.6" x2="616.27" y2="406.6" stroke="#111" stroke-width="1.4"/>
<line x1="618.40" y1="403.6" x2="618.40" y2="408.6" stroke="#111" stroke-width="1.7"/>
<text x="477.9" y="419.6" font-size="8.2" font-weight="bold" text-anchor="start" fill="#111" textLength="7.6" lengthAdjust="spacingAndGlyphs" >10</text>
<text x="487.2" y="414.5" font-size="7.4" font-weight="bold" text-anchor="start" fill="#111" >3</text>
<text x="524.3" y="419.6" font-size="8.2" font-weight="bold" text-anchor="start" fill="#111" textLength="7.6" lengthAdjust="spacingAndGlyphs" >10</text>
<text x="533.5999999999999" y="414.5" font-size="7.4" font-weight="bold" text-anchor="start" fill="#111" >4</text>
<text x="570.7" y="419.6" font-size="8.2" font-weight="bold" text-anchor="start" fill="#111" textLength="7.6" lengthAdjust="spacingAndGlyphs" >10</text>
<text x="580.0" y="414.5" font-size="7.4" font-weight="bold" text-anchor="start" fill="#111" >5</text>
<text x="617.4" y="419.6" font-size="8.2" font-weight="bold" text-anchor="start" fill="#111" textLength="7.6" lengthAdjust="spacingAndGlyphs" >10</text>
<text x="626.6999999999999" y="414.5" font-size="7.4" font-weight="bold" text-anchor="start" fill="#111" >6</text>
<line x1="455.3" y1="403.6" x2="629.5" y2="403.6" stroke="#111" stroke-width="1.6"/>
<path d="M20.5 423V254" stroke="#000" stroke-width="2" fill="none"/>
<path d="M15 263.5L20.5 254L26 263.5" stroke="#000" stroke-width="1.8" fill="none"/>
<path d="M19.5 423H631" stroke="#000" stroke-width="2" fill="none"/>
<path d="M621.3 417.7L631.5 423L621.3 428.6" stroke="#000" stroke-width="1.8" fill="none"/>
<text transform="translate(13.2 357.9) rotate(-90)" font-size="12.8" font-weight="bold" textLength="37.3" lengthAdjust="spacingAndGlyphs">Count</text>
<text x="276.8" y="442.6" font-size="12.6" font-weight="bold" text-anchor="start" fill="#000" textLength="119.9" lengthAdjust="spacingAndGlyphs" >Lysotracker (FL-2A)</text>
<rect x="153.0" y="253.0" width="7.9" height="7.8" fill="#ff0000"/>
<text x="163.0" y="260.1" font-size="8.2" font-weight="bold" text-anchor="start" fill="#1a1a1a" textLength="27.9" lengthAdjust="spacingAndGlyphs" >Control</text>
<rect x="153.0" y="265.8" width="7.9" height="7.2" fill="#f79646"/>
<text x="163.0" y="273.3" font-size="8.2" font-weight="bold" text-anchor="start" fill="#1a1a1a" textLength="61.6" lengthAdjust="spacingAndGlyphs" >APE 100 µM EqC</text>
<rect x="153.0" y="278.0" width="7.9" height="7.8" fill="#84d044"/>
<text x="163.0" y="284.8" font-size="8.2" font-weight="bold" text-anchor="start" fill="#1a1a1a" textLength="61.6" lengthAdjust="spacingAndGlyphs" >APE 300 µM EqC</text>
<rect x="153.0" y="289.9" width="7.9" height="7.8" fill="#92cce6"/>
<text x="163.0" y="296.3" font-size="8.2" font-weight="bold" text-anchor="start" fill="#1a1a1a" textLength="46.5" lengthAdjust="spacingAndGlyphs" >Chloroquine</text>
<rect x="353.9" y="252.9" width="7.9" height="7.8" fill="#ff0000"/>
<text x="364.4" y="259.6" font-size="8.2" font-weight="bold" text-anchor="start" fill="#1a1a1a" textLength="27.6" lengthAdjust="spacingAndGlyphs" >Control</text>
<rect x="353.9" y="265.4" width="7.9" height="7.2" fill="#f79646"/>
<text x="364.4" y="273.6" font-size="8.2" font-weight="bold" text-anchor="start" fill="#1a1a1a" textLength="62.7" lengthAdjust="spacingAndGlyphs" >APE 100 µM EqC</text>
<rect x="353.9" y="277.6" width="7.9" height="7.8" fill="#84d044"/>
<text x="364.4" y="284.5" font-size="8.2" font-weight="bold" text-anchor="start" fill="#1a1a1a" textLength="62.7" lengthAdjust="spacingAndGlyphs" >APE 300 µM EqC</text>
<rect x="353.9" y="289.4" width="7.9" height="7.8" fill="#92cce6"/>
<text x="364.4" y="295.8" font-size="8.2" font-weight="bold" text-anchor="start" fill="#1a1a1a" textLength="46.3" lengthAdjust="spacingAndGlyphs" >Chloroquine</text>
<rect x="552.2" y="247.9" width="7.9" height="7.8" fill="#ff0000"/>
<text x="563.4" y="254.3" font-size="8.2" font-weight="bold" text-anchor="start" fill="#1a1a1a" textLength="27.8" lengthAdjust="spacingAndGlyphs" >Control</text>
<rect x="552.2" y="260.4" width="7.9" height="7.2" fill="#f79646"/>
<text x="563.4" y="268.2" font-size="8.2" font-weight="bold" text-anchor="start" fill="#1a1a1a" textLength="62.0" lengthAdjust="spacingAndGlyphs" >APE 100 µM EqC</text>
<rect x="552.2" y="272.6" width="7.9" height="7.8" fill="#84d044"/>
<text x="563.4" y="279.1" font-size="8.2" font-weight="bold" text-anchor="start" fill="#1a1a1a" textLength="62.0" lengthAdjust="spacingAndGlyphs" >APE 300 µM EqC</text>
<rect x="552.2" y="284.4" width="7.9" height="7.8" fill="#92cce6"/>
<text x="563.4" y="290.8" font-size="8.2" font-weight="bold" text-anchor="start" fill="#1a1a1a" textLength="46.2" lengthAdjust="spacingAndGlyphs" >Chloroquine</text>
<g transform="translate(70 240) scale(0.17519)" fill="none" stroke-width="7.42" stroke-linejoin="round">
<polyline points="-131.3,915.0 0.0,915.0 60.0,910.0 100.0,890.0 130.0,860.0 150.0,810.0 160.0,770.0 170.0,700.0 180.0,600.0 190.0,540.0 200.0,480.0 210.0,400.0 220.0,300.0 230.0,200.0 240.0,170.0 250.0,110.0 255.0,105.0 262.0,135.0 268.0,145.0 275.0,140.0 280.0,200.0 290.0,300.0 300.0,400.0 310.0,430.0 320.0,470.0 330.0,520.0 340.0,580.0 350.0,660.0 360.0,700.0 370.0,740.0 390.0,790.0 420.0,830.0 450.0,860.0 480.0,890.0 520.0,905.0 560.0,912.0 600.0,915.0 884.7,915.0" stroke="#e3211c"/>
<polyline points="-131.3,915.0 100.0,915.0 140.0,900.0 170.0,870.0 190.0,830.0 205.0,790.0 215.0,740.0 225.0,660.0 235.0,560.0 245.0,440.0 255.0,330.0 265.0,250.0 272.0,200.0 278.0,130.0 285.0,75.0 290.0,80.0 296.0,100.0 305.0,120.0 312.0,125.0 318.0,150.0 322.0,210.0 330.0,250.0 340.0,330.0 350.0,400.0 360.0,480.0 370.0,560.0 380.0,620.0 385.0,680.0 392.0,685.0 395.0,700.0 400.0,720.0 410.0,760.0 425.0,800.0 440.0,840.0 460.0,870.0 490.0,890.0 520.0,900.0 560.0,910.0 600.0,915.0 884.7,915.0" stroke="#f5922a"/>
<polyline points="-131.3,915.0 110.0,915.0 150.0,890.0 180.0,850.0 200.0,800.0 215.0,740.0 225.0,670.0 235.0,560.0 245.0,450.0 255.0,350.0 265.0,260.0 275.0,220.0 285.0,200.0 295.0,180.0 300.0,155.0 305.0,150.0 310.0,170.0 315.0,200.0 320.0,215.0 325.0,220.0 330.0,250.0 340.0,320.0 350.0,400.0 360.0,470.0 370.0,540.0 380.0,600.0 390.0,660.0 400.0,720.0 410.0,760.0 425.0,800.0 440.0,840.0 460.0,870.0 490.0,890.0 520.0,900.0 560.0,910.0 600.0,915.0 884.7,915.0" stroke="#6bbf2c"/>
<polyline points="-131.3,915.0 150.0,915.0 190.0,905.0 220.0,890.0 240.0,860.0 255.0,830.0 265.0,800.0 275.0,760.0 285.0,700.0 295.0,640.0 305.0,580.0 315.0,520.0 325.0,450.0 335.0,380.0 345.0,300.0 350.0,240.0 355.0,215.0 360.0,200.0 368.0,175.0 372.0,140.0 378.0,115.0 385.0,120.0 392.0,150.0 400.0,200.0 410.0,260.0 420.0,320.0 430.0,420.0 440.0,520.0 450.0,600.0 460.0,680.0 470.0,740.0 480.0,790.0 495.0,830.0 510.0,855.0 530.0,870.0 560.0,890.0 600.0,905.0 640.0,913.0 685.0,915.0 884.7,915.0" stroke="#2bb6e6"/>
</g>
<g transform="translate(270 240) scale(0.17519)" fill="none" stroke-width="7.42" stroke-linejoin="round">
<polyline points="-105.6,925.3 0.0,925.0 40.0,920.0 80.0,905.0 110.0,890.0 125.0,860.0 140.0,820.0 155.0,770.0 165.0,720.0 175.0,650.0 185.0,570.0 195.0,480.0 200.0,420.0 205.0,360.0 210.0,310.0 218.0,280.0 225.0,200.0 232.0,140.0 240.0,130.0 248.0,105.0 255.0,130.0 260.0,170.0 265.0,210.0 275.0,220.0 280.0,250.0 285.0,300.0 290.0,350.0 300.0,420.0 310.0,480.0 320.0,540.0 335.0,590.0 345.0,650.0 355.0,700.0 370.0,750.0 385.0,800.0 400.0,840.0 420.0,860.0 440.0,875.0 460.0,890.0 480.0,905.0 520.0,912.0 560.0,920.0 600.0,925.0 907.6,925.3" stroke="#e3211c"/>
<polyline points="-105.6,925.3 60.0,925.0 110.0,915.0 150.0,890.0 180.0,870.0 200.0,840.0 215.0,800.0 230.0,740.0 245.0,690.0 255.0,630.0 265.0,570.0 275.0,510.0 285.0,450.0 295.0,400.0 305.0,320.0 312.0,250.0 318.0,200.0 325.0,145.0 332.0,170.0 340.0,230.0 350.0,270.0 358.0,300.0 365.0,350.0 375.0,400.0 385.0,480.0 395.0,530.0 405.0,560.0 415.0,620.0 425.0,680.0 435.0,720.0 450.0,760.0 460.0,800.0 470.0,840.0 490.0,870.0 520.0,890.0 560.0,910.0 600.0,920.0 640.0,925.0 907.6,925.3" stroke="#f5922a"/>
<polyline points="-105.6,925.3 60.0,925.0 110.0,915.0 150.0,895.0 180.0,870.0 205.0,845.0 225.0,820.0 240.0,790.0 255.0,740.0 265.0,700.0 275.0,620.0 285.0,560.0 295.0,500.0 305.0,440.0 315.0,390.0 325.0,360.0 335.0,340.0 342.0,300.0 350.0,250.0 358.0,240.0 365.0,210.0 372.0,185.0 380.0,215.0 390.0,280.0 400.0,310.0 410.0,360.0 420.0,450.0 430.0,480.0 440.0,540.0 450.0,600.0 460.0,670.0 470.0,720.0 480.0,780.0 490.0,820.0 500.0,860.0 520.0,880.0 550.0,900.0 600.0,915.0 640.0,925.0 907.6,925.3" stroke="#6bbf2c"/>
<polyline points="-105.6,925.3 60.0,925.0 120.0,915.0 160.0,905.0 190.0,895.0 220.0,880.0 240.0,860.0 248.0,865.0 258.0,870.0 270.0,840.0 280.0,800.0 290.0,770.0 300.0,730.0 310.0,680.0 320.0,610.0 330.0,550.0 340.0,470.0 345.0,400.0 350.0,340.0 355.0,280.0 362.0,200.0 370.0,150.0 380.0,110.0 388.0,80.0 395.0,110.0 402.0,140.0 408.0,200.0 415.0,280.0 425.0,350.0 435.0,420.0 440.0,480.0 450.0,560.0 460.0,640.0 470.0,690.0 485.0,720.0 500.0,780.0 515.0,820.0 530.0,860.0 550.0,880.0 580.0,900.0 620.0,915.0 685.0,925.0 907.6,925.3" stroke="#2bb6e6"/>
</g>
<g transform="translate(470 240) scale(0.17519)" fill="none" stroke-width="7.42" stroke-linejoin="round">
<polyline points="-78.2,930.4 0.0,930.4 50.0,930.0 80.0,920.0 100.0,905.0 120.0,880.0 140.0,840.0 160.0,790.0 175.0,730.0 185.0,660.0 195.0,580.0 205.0,520.0 215.0,440.0 225.0,370.0 235.0,310.0 245.0,250.0 255.0,190.0 263.0,165.0 270.0,220.0 278.0,270.0 290.0,310.0 300.0,370.0 310.0,430.0 320.0,480.0 330.0,520.0 340.0,580.0 350.0,650.0 358.0,720.0 365.0,760.0 375.0,780.0 385.0,830.0 395.0,860.0 410.0,880.0 430.0,900.0 450.0,910.0 470.0,915.0 490.0,925.0 520.0,930.4 560.0,930.4 907.6,930.4" stroke="#e3211c"/>
<polyline points="-78.2,930.4 40.0,930.4 90.0,925.0 130.0,910.0 160.0,890.0 185.0,860.0 205.0,830.0 225.0,800.0 240.0,760.0 255.0,700.0 265.0,650.0 275.0,610.0 285.0,580.0 292.0,500.0 298.0,420.0 305.0,370.0 312.0,300.0 320.0,220.0 330.0,175.0 340.0,170.0 348.0,190.0 355.0,230.0 365.0,240.0 372.0,270.0 378.0,320.0 385.0,400.0 392.0,470.0 400.0,490.0 408.0,540.0 415.0,600.0 425.0,680.0 435.0,750.0 445.0,800.0 455.0,830.0 470.0,870.0 490.0,900.0 520.0,920.0 560.0,930.0 600.0,930.4 907.6,930.4" stroke="#f5922a"/>
<polyline points="-78.2,930.4 40.0,930.4 80.0,925.0 110.0,905.0 130.0,885.0 150.0,860.0 170.0,850.0 185.0,835.0 200.0,780.0 215.0,720.0 225.0,690.0 235.0,700.0 245.0,680.0 255.0,650.0 265.0,630.0 275.0,640.0 285.0,600.0 295.0,580.0 305.0,570.0 315.0,560.0 325.0,530.0 335.0,430.0 345.0,340.0 355.0,260.0 365.0,250.0 380.0,230.0 395.0,215.0 405.0,210.0 415.0,195.0 422.0,250.0 430.0,310.0 438.0,370.0 445.0,360.0 452.0,400.0 460.0,470.0 470.0,560.0 480.0,650.0 490.0,720.0 500.0,780.0 510.0,830.0 525.0,870.0 540.0,900.0 560.0,920.0 600.0,930.4 907.6,930.4" stroke="#6bbf2c"/>
<polyline points="-78.2,930.4 60.0,930.4 120.0,930.0 160.0,920.0 185.0,905.0 200.0,895.0 215.0,900.0 235.0,885.0 250.0,860.0 262.0,830.0 272.0,780.0 282.0,720.0 292.0,660.0 302.0,600.0 312.0,540.0 322.0,470.0 330.0,400.0 338.0,330.0 345.0,270.0 352.0,200.0 360.0,160.0 370.0,120.0 378.0,85.0 385.0,110.0 392.0,150.0 400.0,220.0 408.0,290.0 415.0,360.0 422.0,420.0 430.0,480.0 440.0,560.0 450.0,640.0 460.0,700.0 470.0,750.0 485.0,800.0 500.0,850.0 520.0,890.0 550.0,915.0 600.0,930.0 640.0,930.4 907.6,930.4" stroke="#2bb6e6"/>
</g>
<line x1="199.1" y1="482.2" x2="199.1" y2="641.5" stroke="#000" stroke-width="3.6"/>
<line x1="198" y1="640.0" x2="434" y2="640.0" stroke="#000" stroke-width="3.4"/>
<line x1="191.6" y1="640.0" x2="199" y2="640.0" stroke="#000" stroke-width="3.0"/>
<text x="192.2" y="643.9" font-size="10.8" font-weight="bold" text-anchor="end" fill="#000" textLength="6.3" lengthAdjust="spacingAndGlyphs" >0</text>
<line x1="191.6" y1="601.0" x2="199" y2="601.0" stroke="#000" stroke-width="3.0"/>
<text x="192.2" y="604.85" font-size="10.8" font-weight="bold" text-anchor="end" fill="#000" textLength="19.0" lengthAdjust="spacingAndGlyphs" >100</text>
<line x1="191.6" y1="561.9" x2="199" y2="561.9" stroke="#000" stroke-width="3.0"/>
<text x="192.2" y="565.8" font-size="10.8" font-weight="bold" text-anchor="end" fill="#000" textLength="19.0" lengthAdjust="spacingAndGlyphs" >200</text>
<line x1="191.6" y1="522.9" x2="199" y2="522.9" stroke="#000" stroke-width="3.0"/>
<text x="192.2" y="526.75" font-size="10.8" font-weight="bold" text-anchor="end" fill="#000" textLength="19.0" lengthAdjust="spacingAndGlyphs" >300</text>
<line x1="191.6" y1="483.8" x2="199" y2="483.8" stroke="#000" stroke-width="3.0"/>
<text x="192.2" y="487.69999999999993" font-size="10.8" font-weight="bold" text-anchor="end" fill="#000" textLength="19.0" lengthAdjust="spacingAndGlyphs" >400</text>
<rect x="234.5" y="641" width="4.2" height="6.2" fill="#000"/>
<rect x="314.2" y="641" width="4.2" height="6.2" fill="#000"/>
<rect x="394.5" y="641" width="4.2" height="6.2" fill="#000"/>
<linearGradient id="g100" x1="0" x2="1" y1="0" y2="0"><stop offset="0" stop-color="#b4b4ba"/><stop offset="0.28" stop-color="#a3a3aa"/><stop offset="0.8" stop-color="#a3a3aa"/><stop offset="1" stop-color="#b4b4ba"/></linearGradient>
<linearGradient id="g300" x1="0" x2="1" y1="0" y2="0"><stop offset="0" stop-color="#939393"/><stop offset="0.25" stop-color="#838383"/><stop offset="0.8" stop-color="#838383"/><stop offset="1" stop-color="#939393"/></linearGradient>
<linearGradient id="gchl" x1="0" x2="1" y1="0" y2="0"><stop offset="0" stop-color="#dcdcdc"/><stop offset="0.2" stop-color="#d5d5d5"/><stop offset="0.8" stop-color="#d5d5d5"/><stop offset="1" stop-color="#e3e3e3"/></linearGradient>
<line x1="210.95" y1="595.7" x2="210.95" y2="601.8" stroke="#222" stroke-width="1.6"/>
<line x1="207.65" y1="595.7" x2="214.25" y2="595.7" stroke="#222" stroke-width="1.6"/>
<rect x="204.2" y="599.8" width="13.5" height="39.2" fill="#000"/>
<line x1="227.90" y1="581.2" x2="227.90" y2="584.2" stroke="#222" stroke-width="1.6"/>
<line x1="224.60" y1="581.2" x2="231.20" y2="581.2" stroke="#222" stroke-width="1.6"/>
<rect x="220.8" y="582.2" width="14.2" height="56.8" fill="url(#g100)"/>
<line x1="245.10" y1="575.7" x2="245.10" y2="583.2" stroke="#222" stroke-width="1.6"/>
<line x1="241.80" y1="575.7" x2="248.40" y2="575.7" stroke="#222" stroke-width="1.6"/>
<rect x="237.6" y="581.2" width="15.0" height="57.8" fill="url(#g300)"/>
<line x1="262.35" y1="530.3" x2="262.35" y2="539.0" stroke="#222" stroke-width="1.6"/>
<line x1="259.05" y1="530.3" x2="265.65" y2="530.3" stroke="#222" stroke-width="1.6"/>
<rect x="254.7" y="537.0" width="15.3" height="102.0" fill="url(#gchl)"/>
<line x1="290.70" y1="591.3" x2="290.70" y2="601.9" stroke="#222" stroke-width="1.6"/>
<line x1="287.40" y1="591.3" x2="294.00" y2="591.3" stroke="#222" stroke-width="1.6"/>
<rect x="283.3" y="599.9" width="14.8" height="39.1" fill="#000"/>
<line x1="308.35" y1="560.8" x2="308.35" y2="567.0" stroke="#222" stroke-width="1.6"/>
<line x1="305.05" y1="560.8" x2="311.65" y2="560.8" stroke="#222" stroke-width="1.6"/>
<rect x="300.8" y="565.0" width="15.1" height="74.0" fill="url(#g100)"/>
<line x1="325.00" y1="529.0" x2="325.00" y2="546.0" stroke="#222" stroke-width="1.6"/>
<line x1="321.70" y1="529.0" x2="328.30" y2="529.0" stroke="#222" stroke-width="1.6"/>
<rect x="318.0" y="544.0" width="14.0" height="95.0" fill="url(#g300)"/>
<line x1="342.35" y1="508.5" x2="342.35" y2="523.6" stroke="#222" stroke-width="1.6"/>
<line x1="339.05" y1="508.5" x2="345.65" y2="508.5" stroke="#222" stroke-width="1.6"/>
<rect x="334.9" y="521.6" width="14.9" height="117.4" fill="url(#gchl)"/>
<line x1="371.55" y1="585.7" x2="371.55" y2="601.8" stroke="#222" stroke-width="1.6"/>
<line x1="368.25" y1="585.7" x2="374.85" y2="585.7" stroke="#222" stroke-width="1.6"/>
<rect x="364.4" y="599.8" width="14.3" height="39.2" fill="#000"/>
<line x1="388.35" y1="554.4" x2="388.35" y2="565.0" stroke="#222" stroke-width="1.6"/>
<line x1="385.05" y1="554.4" x2="391.65" y2="554.4" stroke="#222" stroke-width="1.6"/>
<rect x="381.7" y="563.0" width="13.3" height="76.0" fill="url(#g100)"/>
<line x1="405.15" y1="523.4" x2="405.15" y2="539.8" stroke="#222" stroke-width="1.6"/>
<line x1="401.85" y1="523.4" x2="408.45" y2="523.4" stroke="#222" stroke-width="1.6"/>
<rect x="397.9" y="537.8" width="14.5" height="101.2" fill="url(#g300)"/>
<line x1="422.65" y1="534.5" x2="422.65" y2="538.0" stroke="#222" stroke-width="1.6"/>
<line x1="419.35" y1="534.5" x2="425.95" y2="534.5" stroke="#222" stroke-width="1.6"/>
<rect x="415.2" y="536.0" width="14.9" height="103.0" fill="url(#gchl)"/>
<path d="M228.70 572.80L228.70 578.20M226.36 574.15L231.04 576.85M231.04 574.15L226.36 576.85" stroke="#1a1a1a" stroke-width="1.1" stroke-linecap="round" fill="none"/>
<path d="M245.40 561.90L245.40 567.30M243.06 563.25L247.74 565.95M247.74 563.25L243.06 565.95" stroke="#1a1a1a" stroke-width="1.1" stroke-linecap="round" fill="none"/>
<path d="M252.50 516.10L252.50 521.50M250.16 517.45L254.84 520.15M254.84 517.45L250.16 520.15" stroke="#1a1a1a" stroke-width="1.1" stroke-linecap="round" fill="none"/>
<path d="M261.20 516.10L261.20 521.50M258.86 517.45L263.54 520.15M263.54 517.45L258.86 520.15" stroke="#1a1a1a" stroke-width="1.1" stroke-linecap="round" fill="none"/>
<path d="M269.80 516.10L269.80 521.50M267.46 517.45L272.14 520.15M272.14 517.45L267.46 520.15" stroke="#1a1a1a" stroke-width="1.1" stroke-linecap="round" fill="none"/>
<path d="M278.40 516.10L278.40 521.50M276.06 517.45L280.74 520.15M280.74 517.45L276.06 520.15" stroke="#1a1a1a" stroke-width="1.1" stroke-linecap="round" fill="none"/>
<path d="M308.60 551.80L308.60 557.20M306.26 553.15L310.94 555.85M310.94 553.15L306.26 555.85" stroke="#1a1a1a" stroke-width="1.1" stroke-linecap="round" fill="none"/>
<path d="M321.50 516.60L321.50 522.00M319.16 517.95L323.84 520.65M323.84 517.95L319.16 520.65" stroke="#1a1a1a" stroke-width="1.1" stroke-linecap="round" fill="none"/>
<path d="M330.20 516.60L330.20 522.00M327.86 517.95L332.54 520.65M332.54 517.95L327.86 520.65" stroke="#1a1a1a" stroke-width="1.1" stroke-linecap="round" fill="none"/>
<path d="M334.70 490.90L334.70 496.30M332.36 492.25L337.04 494.95M337.04 492.25L332.36 494.95" stroke="#1a1a1a" stroke-width="1.1" stroke-linecap="round" fill="none"/>
<path d="M342.90 490.90L342.90 496.30M340.56 492.25L345.24 494.95M345.24 492.25L340.56 494.95" stroke="#1a1a1a" stroke-width="1.1" stroke-linecap="round" fill="none"/>
<path d="M351.70 490.90L351.70 496.30M349.36 492.25L354.04 494.95M354.04 492.25L349.36 494.95" stroke="#1a1a1a" stroke-width="1.1" stroke-linecap="round" fill="none"/>
<path d="M388.30 543.00L388.30 548.40M385.96 544.35L390.64 547.05M390.64 544.35L385.96 547.05" stroke="#1a1a1a" stroke-width="1.1" stroke-linecap="round" fill="none"/>
<path d="M399.10 499.70L399.10 505.10M396.76 501.05L401.44 503.75M401.44 501.05L396.76 503.75" stroke="#1a1a1a" stroke-width="1.1" stroke-linecap="round" fill="none"/>
<path d="M407.30 499.70L407.30 505.10M404.96 501.05L409.64 503.75M409.64 501.05L404.96 503.75" stroke="#1a1a1a" stroke-width="1.1" stroke-linecap="round" fill="none"/>
<path d="M416.10 499.70L416.10 505.10M413.76 501.05L418.44 503.75M418.44 501.05L413.76 503.75" stroke="#1a1a1a" stroke-width="1.1" stroke-linecap="round" fill="none"/>
<path d="M416.50 525.20L416.50 530.60M414.16 526.55L418.84 529.25M418.84 526.55L414.16 529.25" stroke="#1a1a1a" stroke-width="1.1" stroke-linecap="round" fill="none"/>
<path d="M425.10 525.20L425.10 530.60M422.76 526.55L427.44 529.25M427.44 526.55L422.76 529.25" stroke="#1a1a1a" stroke-width="1.1" stroke-linecap="round" fill="none"/>
<path d="M433.90 525.20L433.90 530.60M431.56 526.55L436.24 529.25M436.24 526.55L431.56 529.25" stroke="#1a1a1a" stroke-width="1.1" stroke-linecap="round" fill="none"/>
<text transform="translate(239 654.5) rotate(-45)" font-size="10.2" font-weight="bold" text-anchor="end" textLength="21" lengthAdjust="spacingAndGlyphs">24h</text>
<text transform="translate(319 654.5) rotate(-45)" font-size="10.2" font-weight="bold" text-anchor="end" textLength="21" lengthAdjust="spacingAndGlyphs">48h</text>
<text transform="translate(399 654.5) rotate(-45)" font-size="10.2" font-weight="bold" text-anchor="end" textLength="21" lengthAdjust="spacingAndGlyphs">72h</text>
<text transform="translate(166.1 597) rotate(-90)" font-size="13.4" font-weight="bold" textLength="71.2" lengthAdjust="spacingAndGlyphs">MFI % of ctr</text>
<rect x="467.9" y="488.6" width="21.1" height="12.9" fill="#000"/>
<text x="496.7" y="498.6" font-size="12.6" font-weight="normal" text-anchor="start" fill="#111" textLength="25.8" lengthAdjust="spacingAndGlyphs" >CTR</text>
<rect x="467.9" y="510.5" width="21.1" height="12.9" fill="#a9a9b0"/>
<text x="496.7" y="520.5" font-size="12.6" font-weight="normal" text-anchor="start" fill="#111" textLength="99.3" lengthAdjust="spacingAndGlyphs" >APE 100 µM EqC</text>
<rect x="467.9" y="532.0" width="21.1" height="12.9" fill="#8a8a8a"/>
<text x="496.7" y="542.0" font-size="12.6" font-weight="normal" text-anchor="start" fill="#111" textLength="99.3" lengthAdjust="spacingAndGlyphs" >APE 300 µM EqC</text>
<rect x="467.9" y="553.9" width="21.1" height="12.9" fill="#dcdcdc"/>
<text x="496.7" y="563.9" font-size="12.6" font-weight="normal" text-anchor="start" fill="#111" textLength="64.5" lengthAdjust="spacingAndGlyphs" >chloroquine</text>
<text x="15.2" y="702.5" font-size="18" font-weight="bold" text-anchor="start" fill="#000" >c</text>
<text x="42.5" y="735.2" font-size="13.7" font-weight="bold" text-anchor="start" fill="#000" textLength="82.5" lengthAdjust="spacingAndGlyphs" >APE (µM EqC)</text>
<text x="149.5" y="735.2" font-size="13.7" font-weight="bold" text-anchor="start" fill="#000" textLength="7.5" lengthAdjust="spacingAndGlyphs" >0</text>
<text x="205.7" y="735.2" font-size="13.7" font-weight="bold" text-anchor="start" fill="#000" textLength="21.7" lengthAdjust="spacingAndGlyphs" >100</text>
<text x="271.2" y="735.2" font-size="13.7" font-weight="bold" text-anchor="start" fill="#000" textLength="22.7" lengthAdjust="spacingAndGlyphs" >300</text>
<text x="70.0" y="769.1" font-size="13.7" font-weight="bold" text-anchor="start" fill="#000" textLength="48" lengthAdjust="spacingAndGlyphs" >beclin-1</text>
<text x="97.6" y="840.0" font-size="13.7" font-weight="bold" text-anchor="start" fill="#000" textLength="21.5" lengthAdjust="spacingAndGlyphs" >p62</text>
<text x="83.4" y="901.2" font-size="13.7" font-weight="bold" text-anchor="start" fill="#000" textLength="35.8" lengthAdjust="spacingAndGlyphs" >LC3B I</text>
<text x="79.4" y="928.3" font-size="13.7" font-weight="bold" text-anchor="start" fill="#000" textLength="39.8" lengthAdjust="spacingAndGlyphs" >LC3B II</text>
<text x="64.5" y="969.9" font-size="13.7" font-weight="bold" text-anchor="start" fill="#000" textLength="56" lengthAdjust="spacingAndGlyphs" >α-tubulin</text>
<linearGradient id="pg0" x1="0" y1="0" x2="1" y2="1"><stop offset="0" stop-color="#808080"/><stop offset="0.5" stop-color="#898989"/><stop offset="1" stop-color="#808080"/></linearGradient>
<rect x="128.6" y="744.8" width="187.9" height="47.0" fill="url(#pg0)"/>
<linearGradient id="pg1" x1="0" y1="0" x2="1" y2="1"><stop offset="0" stop-color="#9e9e9e"/><stop offset="0.5" stop-color="#a5a5a5"/><stop offset="1" stop-color="#9e9e9e"/></linearGradient>
<rect x="128.6" y="797.0" width="187.9" height="69.2" fill="url(#pg1)"/>
<linearGradient id="pg2" x1="0" y1="0" x2="1" y2="1"><stop offset="0" stop-color="#919191"/><stop offset="0.5" stop-color="#9a9a9a"/><stop offset="1" stop-color="#919191"/></linearGradient>
<rect x="128.6" y="872.6" width="187.9" height="63.4" fill="url(#pg2)"/>
<linearGradient id="pg3" x1="0" y1="0" x2="1" y2="1"><stop offset="0" stop-color="#a0a0a0"/><stop offset="0.5" stop-color="#a5a5a5"/><stop offset="1" stop-color="#a0a0a0"/></linearGradient>
<rect x="128.6" y="942.3" width="187.9" height="44.5" fill="url(#pg3)"/>
<g filter="url(#blur3)">
<ellipse cx="167.5" cy="765.6" rx="23.5" ry="6.2" fill="#3a3a3a"/>
<ellipse cx="183" cy="766.2" rx="8.5" ry="5.6" fill="#262626"/>
<ellipse cx="155" cy="765.4" rx="9" ry="5" fill="#303030"/>
<ellipse cx="221.5" cy="765.6" rx="20" ry="4.6" fill="#484848"/>
<ellipse cx="233" cy="766.4" rx="7" ry="3.6" fill="#3e3e3e"/>
<ellipse cx="272" cy="766.2" rx="19.5" ry="3.6" fill="#5c5c5c"/>
<ellipse cx="283" cy="766.6" rx="6" ry="2.8" fill="#555"/>
</g>
<g filter="url(#blur2)">
<path d="M136.70 834.80 L137.94 831.71 L139.18 830.71 L140.42 830.10 L141.66 829.71 L142.90 829.46 L144.14 829.30 L145.38 829.21 L146.62 829.17 L147.86 829.16 L149.10 829.18 L150.34 829.22 L151.58 829.28 L152.82 829.34 L154.06 829.42 L155.30 829.49 L156.54 829.58 L157.78 829.66 L159.02 829.76 L160.26 829.85 L161.50 829.95 L162.74 830.05 L163.98 830.16 L165.22 830.27 L166.46 830.39 L167.70 830.51 L168.94 830.63 L170.18 830.76 L171.42 830.90 L172.66 831.04 L173.90 831.20 L175.14 831.38 L176.38 831.58 L177.62 831.81 L178.86 832.08 L180.10 832.41 L181.34 832.81 L182.58 833.32 L183.82 834.00 L185.06 834.98 L186.30 837.60 L186.30 837.60 L185.06 840.08 L183.82 840.92 L182.58 841.46 L181.34 841.83 L180.10 842.09 L178.86 842.28 L177.62 842.41 L176.38 842.50 L175.14 842.56 L173.90 842.60 L172.66 842.62 L171.42 842.62 L170.18 842.62 L168.94 842.61 L167.70 842.59 L166.46 842.57 L165.22 842.55 L163.98 842.52 L162.74 842.49 L161.50 842.45 L160.26 842.41 L159.02 842.36 L157.78 842.32 L156.54 842.26 L155.30 842.21 L154.06 842.14 L152.82 842.08 L151.58 842.00 L150.34 841.92 L149.10 841.82 L147.86 841.70 L146.62 841.55 L145.38 841.37 L144.14 841.14 L142.90 840.84 L141.66 840.45 L140.42 839.92 L139.18 839.17 L137.94 838.03 L136.70 834.80Z" fill="#2e2e2e"/>
<path d="M191.60 839.20 L192.82 836.43 L194.03 835.49 L195.25 834.90 L196.47 834.50 L197.69 834.21 L198.91 834.01 L200.12 833.86 L201.34 833.76 L202.56 833.69 L203.78 833.64 L204.99 833.61 L206.21 833.58 L207.43 833.57 L208.65 833.56 L209.86 833.55 L211.08 833.55 L212.30 833.54 L213.52 833.54 L214.73 833.55 L215.95 833.55 L217.17 833.56 L218.38 833.56 L219.60 833.57 L220.82 833.59 L222.04 833.60 L223.25 833.62 L224.47 833.64 L225.69 833.66 L226.91 833.70 L228.12 833.74 L229.34 833.80 L230.56 833.88 L231.78 833.99 L233.00 834.15 L234.21 834.36 L235.43 834.66 L236.65 835.07 L237.87 835.67 L239.08 836.62 L240.30 839.40 L240.30 839.40 L239.08 842.17 L237.87 843.11 L236.65 843.70 L235.43 844.10 L234.21 844.39 L233.00 844.59 L231.78 844.74 L230.56 844.84 L229.34 844.91 L228.12 844.96 L226.91 844.99 L225.69 845.02 L224.47 845.03 L223.25 845.04 L222.04 845.05 L220.82 845.05 L219.60 845.06 L218.38 845.06 L217.17 845.05 L215.95 845.05 L214.73 845.04 L213.52 845.04 L212.30 845.03 L211.08 845.01 L209.86 845.00 L208.65 844.98 L207.43 844.96 L206.21 844.94 L204.99 844.90 L203.78 844.86 L202.56 844.80 L201.34 844.72 L200.12 844.61 L198.91 844.45 L197.69 844.24 L196.47 843.94 L195.25 843.53 L194.03 842.93 L192.82 841.98 L191.60 839.20Z" fill="#323232"/>
<path d="M244.10 840.20 L245.59 836.48 L247.08 835.18 L248.57 834.35 L250.06 833.75 L251.55 833.32 L253.04 832.99 L254.53 832.74 L256.02 832.55 L257.51 832.40 L259.00 832.28 L260.49 832.17 L261.98 832.09 L263.47 832.01 L264.96 831.94 L266.45 831.87 L267.94 831.81 L269.43 831.75 L270.92 831.70 L272.41 831.65 L273.90 831.60 L275.39 831.55 L276.88 831.51 L278.37 831.47 L279.86 831.43 L281.35 831.40 L282.84 831.37 L284.33 831.35 L285.82 831.33 L287.31 831.32 L288.80 831.33 L290.29 831.36 L291.78 831.41 L293.27 831.51 L294.76 831.66 L296.25 831.88 L297.74 832.21 L299.23 832.68 L300.72 833.40 L302.21 834.54 L303.70 838.00 L303.70 838.00 L302.21 841.57 L300.72 842.82 L299.23 843.65 L297.74 844.23 L296.25 844.67 L294.76 845.00 L293.27 845.26 L291.78 845.47 L290.29 845.63 L288.80 845.77 L287.31 845.89 L285.82 845.99 L284.33 846.08 L282.84 846.17 L281.35 846.25 L279.86 846.33 L278.37 846.40 L276.88 846.47 L275.39 846.54 L273.90 846.60 L272.41 846.66 L270.92 846.72 L269.43 846.78 L267.94 846.83 L266.45 846.88 L264.96 846.92 L263.47 846.96 L261.98 846.99 L260.49 847.02 L259.00 847.02 L257.51 847.01 L256.02 846.97 L254.53 846.89 L253.04 846.75 L251.55 846.53 L250.06 846.21 L248.57 845.72 L247.08 845.00 L245.59 843.81 L244.10 840.20Z" fill="#2b2b2b"/>
<path d="M144.00 896.80 L145.31 893.19 L146.62 891.90 L147.94 891.06 L149.25 890.45 L150.56 890.00 L151.88 889.66 L153.19 889.40 L154.50 889.20 L155.81 889.04 L157.12 888.92 L158.44 888.82 L159.75 888.74 L161.06 888.67 L162.38 888.62 L163.69 888.57 L165.00 888.53 L166.31 888.50 L167.62 888.48 L168.94 888.46 L170.25 888.45 L171.56 888.45 L172.88 888.45 L174.19 888.46 L175.50 888.48 L176.81 888.50 L178.12 888.54 L179.44 888.58 L180.75 888.63 L182.06 888.70 L183.38 888.78 L184.69 888.89 L186.00 889.03 L187.31 889.21 L188.62 889.44 L189.94 889.74 L191.25 890.14 L192.56 890.67 L193.88 891.40 L195.19 892.51 L196.50 895.60 L196.50 895.60 L195.19 898.75 L193.88 899.92 L192.56 900.71 L191.25 901.30 L189.94 901.76 L188.62 902.12 L187.31 902.41 L186.00 902.65 L184.69 902.85 L183.38 903.02 L182.06 903.16 L180.75 903.29 L179.44 903.40 L178.12 903.50 L176.81 903.60 L175.50 903.68 L174.19 903.76 L172.88 903.83 L171.56 903.89 L170.25 903.95 L168.94 904.00 L167.62 904.04 L166.31 904.08 L165.00 904.11 L163.69 904.13 L162.38 904.14 L161.06 904.15 L159.75 904.14 L158.44 904.12 L157.12 904.08 L155.81 904.02 L154.50 903.92 L153.19 903.78 L151.88 903.58 L150.56 903.30 L149.25 902.91 L147.94 902.36 L146.62 901.58 L145.31 900.35 L144.00 896.80Z" fill="#2b2b2b"/>
<path d="M197.40 895.00 L198.66 892.10 L199.91 891.10 L201.16 890.46 L202.42 890.02 L203.68 889.70 L204.93 889.47 L206.19 889.30 L207.44 889.18 L208.69 889.08 L209.95 889.01 L211.21 888.96 L212.46 888.92 L213.72 888.89 L214.97 888.87 L216.22 888.85 L217.48 888.83 L218.74 888.82 L219.99 888.81 L221.25 888.80 L222.50 888.80 L223.75 888.80 L225.01 888.80 L226.26 888.81 L227.52 888.81 L228.78 888.83 L230.03 888.84 L231.28 888.86 L232.54 888.89 L233.79 888.92 L235.05 888.97 L236.31 889.03 L237.56 889.12 L238.81 889.24 L240.07 889.40 L241.32 889.62 L242.58 889.92 L243.84 890.33 L245.09 890.93 L246.34 891.87 L247.60 894.60 L247.60 894.60 L246.34 897.35 L245.09 898.31 L243.84 898.93 L242.58 899.36 L241.32 899.68 L240.07 899.92 L238.81 900.10 L237.56 900.24 L236.31 900.35 L235.05 900.43 L233.79 900.50 L232.54 900.55 L231.28 900.60 L230.03 900.64 L228.78 900.67 L227.52 900.71 L226.26 900.73 L225.01 900.76 L223.75 900.78 L222.50 900.80 L221.25 900.82 L219.99 900.83 L218.74 900.84 L217.48 900.85 L216.22 900.85 L214.97 900.85 L213.72 900.85 L212.46 900.84 L211.21 900.82 L209.95 900.79 L208.69 900.74 L207.44 900.66 L206.19 900.56 L204.93 900.41 L203.68 900.20 L202.42 899.90 L201.16 899.48 L199.91 898.86 L198.66 897.88 L197.40 895.00Z" fill="#2d2d2d"/>
<path d="M250.00 894.20 L251.29 891.09 L252.58 889.99 L253.87 889.28 L255.16 888.77 L256.45 888.40 L257.74 888.12 L259.03 887.90 L260.32 887.74 L261.61 887.62 L262.90 887.52 L264.19 887.44 L265.48 887.38 L266.77 887.33 L268.06 887.28 L269.35 887.25 L270.64 887.22 L271.93 887.19 L273.22 887.17 L274.51 887.16 L275.80 887.15 L277.09 887.15 L278.38 887.15 L279.67 887.15 L280.96 887.16 L282.25 887.18 L283.54 887.20 L284.83 887.23 L286.12 887.26 L287.41 887.31 L288.70 887.37 L289.99 887.46 L291.28 887.56 L292.57 887.71 L293.86 887.90 L295.15 888.16 L296.44 888.51 L297.73 888.98 L299.02 889.65 L300.31 890.67 L301.60 893.60 L301.60 893.60 L300.31 896.56 L299.02 897.61 L297.73 898.31 L296.44 898.81 L295.15 899.19 L293.86 899.48 L292.57 899.70 L291.28 899.88 L289.99 900.01 L288.70 900.13 L287.41 900.22 L286.12 900.30 L284.83 900.36 L283.54 900.42 L282.25 900.47 L280.96 900.52 L279.67 900.56 L278.38 900.59 L277.09 900.62 L275.80 900.65 L274.51 900.67 L273.22 900.69 L271.93 900.70 L270.64 900.70 L269.35 900.70 L268.06 900.70 L266.77 900.68 L265.48 900.66 L264.19 900.63 L262.90 900.58 L261.61 900.51 L260.32 900.42 L259.03 900.29 L257.74 900.10 L256.45 899.85 L255.16 899.51 L253.87 899.03 L252.58 898.35 L251.29 897.28 L250.00 894.20Z" fill="#2b2b2b"/>
<path d="M145.40 920.20 L146.72 918.93 L148.03 918.39 L149.34 917.97 L150.66 917.63 L151.97 917.34 L153.29 917.08 L154.61 916.84 L155.92 916.63 L157.24 916.43 L158.55 916.24 L159.87 916.06 L161.18 915.88 L162.50 915.71 L163.81 915.55 L165.12 915.38 L166.44 915.22 L167.75 915.06 L169.07 914.91 L170.38 914.75 L171.70 914.60 L173.02 914.45 L174.33 914.30 L175.65 914.15 L176.96 914.01 L178.28 913.87 L179.59 913.73 L180.91 913.59 L182.22 913.46 L183.53 913.33 L184.85 913.21 L186.16 913.10 L187.48 913.01 L188.80 912.94 L190.11 912.91 L191.43 912.91 L192.74 912.98 L194.06 913.15 L195.37 913.45 L196.69 914.03 L198.00 916.00 L198.00 916.00 L196.69 918.18 L195.37 918.97 L194.06 919.48 L192.74 919.86 L191.43 920.14 L190.11 920.35 L188.80 920.53 L187.48 920.67 L186.16 920.79 L184.85 920.89 L183.53 920.98 L182.22 921.06 L180.91 921.14 L179.59 921.21 L178.28 921.28 L176.96 921.35 L175.65 921.42 L174.33 921.48 L173.02 921.54 L171.70 921.60 L170.38 921.66 L169.07 921.71 L167.75 921.77 L166.44 921.82 L165.12 921.87 L163.81 921.91 L162.50 921.96 L161.18 922.00 L159.87 922.03 L158.55 922.06 L157.24 922.08 L155.92 922.09 L154.61 922.09 L153.29 922.06 L151.97 922.01 L150.66 921.93 L149.34 921.80 L148.03 921.59 L146.72 921.26 L145.40 920.20Z" fill="#2f2f2f"/>
<path d="M200.30 915.40 L201.54 913.65 L202.79 913.04 L204.03 912.64 L205.27 912.35 L206.51 912.14 L207.75 911.99 L209.00 911.87 L210.24 911.77 L211.48 911.70 L212.73 911.65 L213.97 911.60 L215.21 911.56 L216.45 911.53 L217.69 911.50 L218.94 911.48 L220.18 911.46 L221.42 911.44 L222.67 911.42 L223.91 911.41 L225.15 911.40 L226.39 911.39 L227.64 911.38 L228.88 911.38 L230.12 911.38 L231.36 911.38 L232.61 911.38 L233.85 911.39 L235.09 911.40 L236.33 911.42 L237.57 911.45 L238.82 911.48 L240.06 911.53 L241.30 911.61 L242.55 911.71 L243.79 911.84 L245.03 912.03 L246.27 912.30 L247.51 912.68 L248.76 913.27 L250.00 915.00 L250.00 915.00 L248.76 916.75 L247.51 917.36 L246.27 917.76 L245.03 918.05 L243.79 918.26 L242.55 918.41 L241.30 918.53 L240.06 918.63 L238.82 918.70 L237.57 918.75 L236.33 918.80 L235.09 918.84 L233.85 918.87 L232.61 918.90 L231.36 918.92 L230.12 918.94 L228.88 918.96 L227.64 918.98 L226.39 918.99 L225.15 919.00 L223.91 919.01 L222.67 919.02 L221.42 919.02 L220.18 919.02 L218.94 919.02 L217.69 919.02 L216.45 919.01 L215.21 919.00 L213.97 918.98 L212.73 918.95 L211.48 918.92 L210.24 918.87 L209.00 918.79 L207.75 918.69 L206.51 918.56 L205.27 918.37 L204.03 918.10 L202.79 917.72 L201.54 917.13 L200.30 915.40Z" fill="#313131"/>
<path d="M251.10 915.00 L252.47 913.59 L253.84 912.93 L255.22 912.39 L256.59 911.93 L257.96 911.54 L259.33 911.19 L260.71 910.89 L262.08 910.63 L263.45 910.40 L264.82 910.20 L266.20 910.02 L267.57 909.86 L268.94 909.72 L270.31 909.60 L271.69 909.50 L273.06 909.41 L274.43 909.33 L275.81 909.27 L277.18 909.23 L278.55 909.20 L279.92 909.18 L281.30 909.18 L282.67 909.20 L284.04 909.23 L285.41 909.27 L286.78 909.33 L288.16 909.40 L289.53 909.50 L290.90 909.61 L292.27 909.74 L293.65 909.90 L295.02 910.09 L296.39 910.31 L297.76 910.57 L299.14 910.88 L300.51 911.24 L301.88 911.67 L303.25 912.19 L304.63 912.87 L306.00 914.40 L306.00 914.40 L304.63 915.96 L303.25 916.67 L301.88 917.22 L300.51 917.68 L299.14 918.07 L297.76 918.41 L296.39 918.70 L295.02 918.95 L293.65 919.17 L292.27 919.36 L290.90 919.52 L289.53 919.66 L288.16 919.79 L286.78 919.89 L285.41 919.98 L284.04 920.05 L282.67 920.11 L281.30 920.16 L279.92 920.19 L278.55 920.20 L277.18 920.20 L275.81 920.19 L274.43 920.16 L273.06 920.11 L271.69 920.05 L270.31 919.98 L268.94 919.89 L267.57 919.78 L266.20 919.65 L264.82 919.50 L263.45 919.33 L262.08 919.13 L260.71 918.90 L259.33 918.63 L257.96 918.31 L256.59 917.95 L255.22 917.52 L253.84 917.01 L252.47 916.38 L251.10 915.00Z" fill="#2e2e2e"/>
<path d="M141.00 963.40 L142.19 960.63 L143.38 959.79 L144.57 959.30 L145.76 959.02 L146.95 958.85 L148.14 958.78 L149.33 958.76 L150.52 958.79 L151.71 958.84 L152.90 958.92 L154.09 959.01 L155.28 959.12 L156.47 959.23 L157.66 959.35 L158.85 959.47 L160.04 959.59 L161.23 959.71 L162.42 959.84 L163.61 959.97 L164.80 960.10 L165.99 960.23 L167.18 960.37 L168.37 960.50 L169.56 960.64 L170.75 960.78 L171.94 960.93 L173.13 961.08 L174.32 961.23 L175.51 961.38 L176.70 961.55 L177.89 961.73 L179.08 961.92 L180.27 962.14 L181.46 962.39 L182.65 962.68 L183.84 963.02 L185.03 963.45 L186.22 964.00 L187.41 964.78 L188.60 966.80 L188.60 966.80 L187.41 968.65 L186.22 969.26 L185.03 969.64 L183.84 969.90 L182.65 970.07 L181.46 970.19 L180.27 970.27 L179.08 970.32 L177.89 970.34 L176.70 970.35 L175.51 970.35 L174.32 970.33 L173.13 970.31 L171.94 970.29 L170.75 970.27 L169.56 970.24 L168.37 970.21 L167.18 970.17 L165.99 970.14 L164.80 970.10 L163.61 970.06 L162.42 970.02 L161.23 969.98 L160.04 969.93 L158.85 969.88 L157.66 969.83 L156.47 969.78 L155.28 969.72 L154.09 969.66 L152.90 969.58 L151.71 969.49 L150.52 969.37 L149.33 969.23 L148.14 969.04 L146.95 968.80 L145.76 968.46 L144.57 968.01 L143.38 967.35 L142.19 966.34 L141.00 963.40Z" fill="#2a2a2a"/>
<path d="M195.70 966.00 L196.79 963.67 L197.89 962.86 L198.98 962.33 L200.08 961.96 L201.17 961.69 L202.27 961.49 L203.36 961.34 L204.46 961.23 L205.55 961.15 L206.65 961.08 L207.75 961.04 L208.84 961.01 L209.94 960.98 L211.03 960.96 L212.12 960.95 L213.22 960.94 L214.31 960.94 L215.41 960.94 L216.50 960.94 L217.60 960.95 L218.69 960.96 L219.79 960.98 L220.88 961.00 L221.98 961.02 L223.07 961.05 L224.17 961.08 L225.26 961.12 L226.36 961.17 L227.45 961.22 L228.55 961.28 L229.64 961.37 L230.74 961.47 L231.83 961.60 L232.93 961.77 L234.03 961.99 L235.12 962.28 L236.22 962.67 L237.31 963.22 L238.41 964.05 L239.50 966.40 L239.50 966.40 L238.41 968.73 L237.31 969.54 L236.22 970.07 L235.12 970.44 L234.03 970.71 L232.93 970.91 L231.83 971.06 L230.74 971.17 L229.64 971.25 L228.55 971.32 L227.45 971.36 L226.36 971.39 L225.26 971.42 L224.17 971.44 L223.07 971.45 L221.98 971.46 L220.88 971.46 L219.79 971.46 L218.69 971.46 L217.60 971.45 L216.50 971.44 L215.41 971.42 L214.31 971.40 L213.22 971.38 L212.12 971.35 L211.03 971.32 L209.94 971.28 L208.84 971.23 L207.75 971.18 L206.65 971.12 L205.55 971.03 L204.46 970.93 L203.36 970.80 L202.27 970.63 L201.17 970.41 L200.08 970.12 L198.98 969.73 L197.89 969.18 L196.79 968.35 L195.70 966.00Z" fill="#2d2d2d"/>
<path d="M247.60 966.40 L248.77 963.89 L249.94 963.00 L251.10 962.41 L252.27 961.99 L253.44 961.67 L254.60 961.43 L255.77 961.24 L256.94 961.09 L258.11 960.97 L259.27 960.87 L260.44 960.78 L261.61 960.71 L262.78 960.64 L263.94 960.58 L265.11 960.53 L266.28 960.47 L267.45 960.43 L268.62 960.38 L269.78 960.34 L270.95 960.30 L272.12 960.26 L273.29 960.23 L274.45 960.20 L275.62 960.17 L276.79 960.15 L277.95 960.13 L279.12 960.11 L280.29 960.10 L281.46 960.10 L282.62 960.11 L283.79 960.14 L284.96 960.18 L286.13 960.26 L287.30 960.38 L288.46 960.56 L289.63 960.81 L290.80 961.18 L291.97 961.72 L293.13 962.59 L294.30 965.20 L294.30 965.20 L293.13 967.87 L291.97 968.80 L290.80 969.40 L289.63 969.83 L288.46 970.14 L287.30 970.38 L286.13 970.56 L284.96 970.70 L283.79 970.80 L282.62 970.89 L281.46 970.96 L280.29 971.02 L279.12 971.07 L277.95 971.11 L276.79 971.15 L275.62 971.19 L274.45 971.22 L273.29 971.25 L272.12 971.28 L270.95 971.30 L269.78 971.32 L268.62 971.34 L267.45 971.35 L266.28 971.37 L265.11 971.37 L263.94 971.38 L262.78 971.38 L261.61 971.37 L260.44 971.36 L259.27 971.33 L258.11 971.29 L256.94 971.23 L255.77 971.14 L254.60 971.01 L253.44 970.83 L252.27 970.57 L251.10 970.21 L249.94 969.68 L248.77 968.85 L247.60 966.40Z" fill="#2d2d2d"/>
<ellipse cx="268.5" cy="832.2" rx="3.2" ry="2.2" fill="#8a8a8a"/>
</g>
<line x1="421.5" y1="767" x2="421.5" y2="896.5" stroke="#8a8a8a" stroke-width="1"/>
<line x1="421" y1="896.5" x2="683" y2="896.5" stroke="#7c7c7c" stroke-width="1"/>
<line x1="418.8" y1="896.5" x2="421.5" y2="896.5" stroke="#8a8a8a" stroke-width="1"/>
<text x="413.2" y="898.9" font-size="9.0" font-weight="bold" text-anchor="end" fill="#111" textLength="4.0" lengthAdjust="spacingAndGlyphs" >0</text>
<line x1="418.8" y1="853.5" x2="421.5" y2="853.5" stroke="#8a8a8a" stroke-width="1"/>
<text x="413.2" y="856.1" font-size="9.0" font-weight="bold" text-anchor="end" fill="#111" textLength="10.6" lengthAdjust="spacingAndGlyphs" >0,5</text>
<line x1="418.8" y1="810.5" x2="421.5" y2="810.5" stroke="#8a8a8a" stroke-width="1"/>
<text x="413.2" y="813.3" font-size="9.0" font-weight="bold" text-anchor="end" fill="#111" textLength="3.8" lengthAdjust="spacingAndGlyphs" >1</text>
<line x1="418.8" y1="768.5" x2="421.5" y2="768.5" stroke="#8a8a8a" stroke-width="1"/>
<text x="413.2" y="770.5" font-size="9.0" font-weight="bold" text-anchor="end" fill="#111" textLength="10.6" lengthAdjust="spacingAndGlyphs" >1,5</text>
<line x1="421.5" y1="896.5" x2="421.5" y2="901" stroke="#8a8a8a" stroke-width="1"/>
<line x1="508.5" y1="896.5" x2="508.5" y2="901" stroke="#8a8a8a" stroke-width="1"/>
<line x1="595.5" y1="896.5" x2="595.5" y2="901" stroke="#8a8a8a" stroke-width="1"/>
<line x1="682.5" y1="896.5" x2="682.5" y2="901" stroke="#8a8a8a" stroke-width="1"/>
<rect x="438.2" y="817.2" width="54.2" height="78.8" fill="#404040" stroke="#2e2e2e" stroke-width="0.6"/>
<path d="M463.1 813.2H467.5M465.3 813.2V821.4M463.1 821.4H467.5" stroke="#222" stroke-width="0.8" fill="none"/>
<rect x="524.7" y="811.3" width="54.9" height="84.7" fill="#404040" stroke="#2e2e2e" stroke-width="0.6"/>
<path d="M550.0 807.0H554.4M552.2 807.0V815.0M550.0 815.0H554.4" stroke="#222" stroke-width="0.8" fill="none"/>
<rect x="611.4" y="796.7" width="55.2" height="99.3" fill="#404040" stroke="#2e2e2e" stroke-width="0.6"/>
<path d="M636.8 792.0H641.2M639.0 792.0V802.3M636.8 802.3H641.2" stroke="#222" stroke-width="0.8" fill="none"/>
<path d="M552.30 790.70L552.30 797.30M549.44 792.35L555.16 795.65M555.16 792.35L549.44 795.65" stroke="#111" stroke-width="1.15" stroke-linecap="round" fill="none"/>
<path d="M639.90 773.70L639.90 780.30M637.04 775.35L642.76 778.65M642.76 775.35L637.04 778.65" stroke="#111" stroke-width="1.15" stroke-linecap="round" fill="none"/>
<text x="446.4" y="917.0" font-size="11.6" font-weight="bold" text-anchor="start" fill="#000" textLength="37.9" lengthAdjust="spacingAndGlyphs" >Control</text>
<text x="543.6" y="917.0" font-size="11.6" font-weight="bold" text-anchor="start" fill="#000" textLength="17.6" lengthAdjust="spacingAndGlyphs" >100</text>
<text x="629.8" y="917.0" font-size="11.6" font-weight="bold" text-anchor="start" fill="#000" textLength="18.4" lengthAdjust="spacingAndGlyphs" >300</text>
<text x="516.8" y="933.6" font-size="11.6" font-weight="bold" text-anchor="start" fill="#000" textLength="70.2" lengthAdjust="spacingAndGlyphs" >APE (µM EqC)</text>
<text transform="translate(396.3 866.4) rotate(-90)" font-size="10" font-weight="bold" textLength="69.5" lengthAdjust="spacingAndGlyphs">LC3B II/I ratio</text>
</svg>
</body></html>
